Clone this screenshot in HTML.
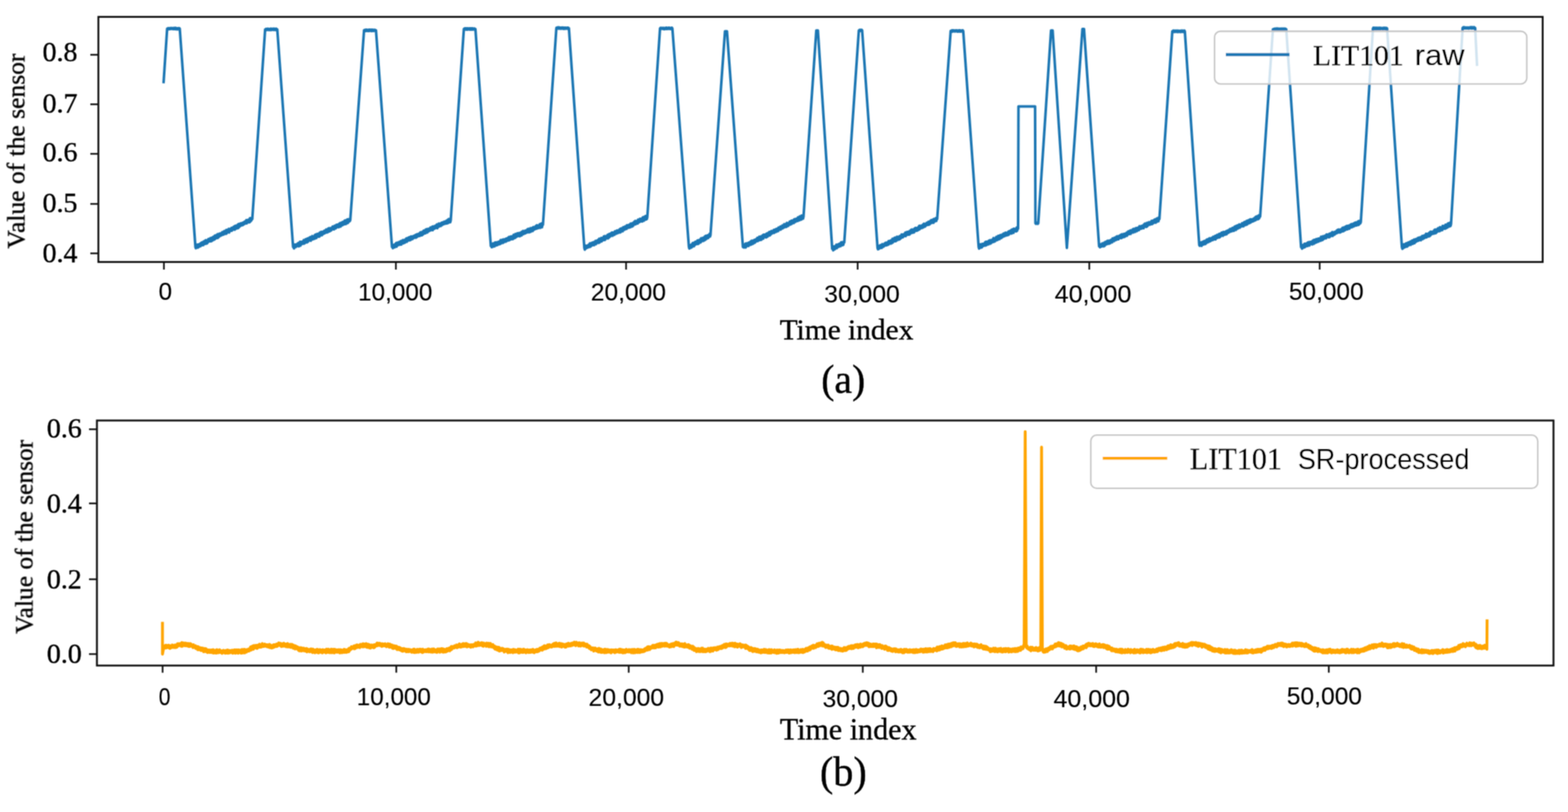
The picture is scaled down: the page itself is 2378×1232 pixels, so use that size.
<!DOCTYPE html>
<html><head><meta charset="utf-8"><title>LIT101 raw vs SR-processed</title>
<style>
html,body{margin:0;padding:0;background:#fff;}
body{width:2378px;height:1232px;overflow:hidden;}
svg{display:block;}

text{fill:#000;stroke:#000;stroke-width:0.55px;}
text.s{stroke-width:0.15px;}
</style></head>
<body>
<svg width="2378" height="1232" viewBox="0 0 2378 1232">
<defs><filter id="soft" x="0" y="0" width="2378" height="1232" filterUnits="userSpaceOnUse"><feConvolveMatrix order="3" kernelMatrix="1 2 1 2 4 2 1 2 1" edgeMode="duplicate" preserveAlpha="false"/></filter></defs>
<rect width="2378" height="1232" fill="#ffffff"/>
<g filter="url(#soft)">
<polyline points="248,126.4 253.5,43.4 254.2,44.1 254.9,42.8 255.6,44.3 256.3,42.9 257,44.2 257.7,42.7 258.5,43.9 259.2,42.6 259.9,43.9 260.6,42.6 261.3,43.9 262,42.9 262.7,44.2 263.4,42.4 264.1,44 264.8,42.8 265.5,44.3 266.2,42.3 266.9,44.2 267.6,42.7 268.4,44.5 269.1,42.9 269.8,44.4 270.5,42.7 271.2,44 271.9,42.8 272.6,43.4 296.4,375 297.1,376.6 297.8,371.5 298.5,375.7 299.2,371.2 299.9,375.8 300.6,370.9 301.3,374.9 302,370.7 302.7,373.4 303.4,369.8 304.1,373.7 304.8,368.7 305.5,372.4 306.2,367.8 306.9,372 307.6,367.6 308.3,371.9 309,366.2 309.7,370.2 310.4,365.7 311.1,370 311.8,364.5 312.5,369.7 313.2,364.8 313.9,369.4 314.6,364.4 315.3,367.8 316,362.6 316.7,366.6 317.4,362.4 318.1,365.7 318.8,361.4 319.5,366.3 320.2,360.9 320.9,365.8 321.6,360.6 322.3,364.8 323,359.4 323.7,363.9 324.4,359 325.1,363.6 325.8,357.4 326.5,362.3 327.2,357.2 327.9,360.9 328.6,356.5 329.3,361.2 330,355.3 330.7,360.8 331.4,355.8 332.1,359.4 332.8,354.5 333.5,358.1 334.2,354.1 334.9,357.6 335.6,354 336.3,356.8 337,352.2 337.7,356.2 338.4,352.4 339.1,355.9 339.9,350.6 340.6,354.7 341.3,350.7 342,354.8 342.7,349.2 343.4,354.6 344.1,348.6 344.8,353 345.5,348.7 346.2,352.4 346.9,347.2 347.6,352.7 348.3,347.7 349,350.7 349.7,346.9 350.4,350.1 351.1,345.8 351.8,350 352.5,345.4 353.2,348.3 353.9,344.5 354.6,348.3 355.3,343.5 356,348.6 356.7,342.6 357.4,347.1 358.1,342.1 358.8,346.7 359.5,342.3 360.2,346.4 360.9,340.4 361.6,345.7 362.3,339.7 363,344.2 363.7,339.7 364.4,343 365.1,338.6 365.8,342.2 366.5,338.9 367.2,341.8 367.9,338 368.6,341.3 369.3,337.5 370,340 370.7,336.6 371.4,339.5 372.1,335.6 372.8,338.7 373.5,334 374.2,339 374.9,334.6 375.6,337.7 376.3,333.5 377,337.2 377.7,333.2 378.4,337.3 379.1,331 379.8,336 380.5,331.2 381.2,334.6 381.9,331.2 382.6,332.4 402.1,44.6 402.8,45.3 403.5,43.9 404.2,45.6 404.9,44 405.6,45.1 406.3,43.5 407.1,45.4 407.8,44 408.5,45.4 409.2,44.1 409.9,45.4 410.6,43.5 411.3,45.6 412,43.7 412.7,45.3 413.4,43.9 414.1,45.2 414.8,43.6 415.5,45.4 416.3,43.6 417,45.3 417.7,44 418.4,45.6 419.1,43.5 419.8,45.6 420.5,44.6 444.5,374.8 445.2,371.7 445.9,376.9 446.6,371.1 447.3,375.2 448,370.9 448.7,374.8 449.4,371 450.1,373.6 450.8,369.9 451.5,373.3 452.3,368.6 453,373.8 453.7,368.3 454.4,373.1 455.1,366.7 455.8,372.5 456.5,367.1 457.2,370.6 457.9,366.7 458.6,369.9 459.3,366.1 460,369.9 460.7,364.2 461.4,369.6 462.1,364.3 462.8,368.6 463.5,363 464.2,367 464.9,362.6 465.6,367.7 466.4,361.7 467.1,366.8 467.8,361.6 468.5,365.2 469.2,360.4 469.9,364.8 470.6,359.7 471.3,365.2 472,359.7 472.7,363.5 473.4,358.1 474.1,363.4 474.8,358.8 475.5,361.7 476.2,358.1 476.9,362.4 477.6,356.4 478.3,360.4 479,355.7 479.7,361.2 480.4,355.3 481.2,359.5 481.9,354.8 482.6,358.4 483.3,355 484,359.2 484.7,353.3 485.4,357.8 486.1,352.1 486.8,356.9 487.5,351.6 488.2,356.9 488.9,352 489.6,355.3 490.3,351.2 491,354.6 491.7,350.1 492.4,354 493.1,349.7 493.8,353.1 494.5,348.2 495.3,352.8 496,348.3 496.7,352.5 497.4,346.9 498.1,351.6 498.8,346.2 499.5,351.1 500.2,346.2 500.9,350.4 501.6,346.4 502.3,349.6 503,345.4 503.7,348.2 504.4,343.7 505.1,347.8 505.8,343.6 506.5,348.1 507.2,342.8 507.9,346.8 508.6,342.2 509.3,346.5 510.1,341.1 510.8,345 511.5,340.8 512.2,344.6 512.9,340.6 513.6,344.8 514.3,339.5 515,343.8 515.7,338.4 516.4,343.8 517.1,338.3 517.8,342.6 518.5,337.5 519.2,341.7 519.9,336.6 520.6,341 521.3,336.2 522,340.3 522.7,334.8 523.4,340.1 524.2,334.2 524.9,339.8 525.6,334.6 526.3,338.5 527,332.8 527.7,338.3 528.4,333.5 529.1,336.4 529.8,332.3 530.5,335.7 531.2,333.8 552.1,46.1 552.8,45.5 553.5,46.6 554.3,45.2 555,47.1 555.7,45.1 556.4,46.7 557.2,45.2 557.9,47 558.6,45.5 559.3,47.1 560.1,45 560.8,46.7 561.5,45 562.2,46.8 563,45.3 563.7,47.2 564.4,45.1 565.1,46.7 565.9,45.3 566.6,46.9 567.3,45.4 568,46.7 568.8,45.4 569.5,47 570.2,46.1 594.5,374.8 595.2,373 595.9,376.5 596.6,371.7 597.3,374.9 598,371.2 598.7,375.3 599.4,370.3 600.1,373.7 600.8,368.8 601.5,374.3 602.2,368.2 602.9,372.5 603.6,368.8 604.3,371.7 605,367.2 605.7,371.5 606.4,367.7 607.1,371.1 607.8,365.7 608.5,371.1 609.2,366.2 609.9,369.3 610.6,364.4 611.3,369.4 612,364.1 612.7,368 613.4,364.6 614.1,368.3 614.8,363.3 615.5,366.6 616.2,361.8 617,366.9 617.7,361.4 618.4,365.4 619.1,360.6 619.8,364.7 620.5,360 621.2,364.7 621.9,360.2 622.6,364.2 623.3,358.6 624,363.1 624.7,359.3 625.4,362.9 626.1,358.5 626.8,361.5 627.5,358 628.2,360.8 628.9,357.2 629.6,360.6 630.3,356.4 631,360.7 631.7,355.8 632.4,359.6 633.1,355.3 633.8,358.7 634.5,355 635.2,357.9 635.9,354.3 636.6,358.1 637.3,352.8 638,356.5 638.7,352.3 639.4,357.1 640.1,352.2 640.8,356.3 641.5,351 642.2,355.1 642.9,349.7 643.6,354.3 644.3,349.6 645,354.1 645.7,348.2 646.4,352.9 647.1,347.8 647.8,352.9 648.5,347.5 649.2,351.7 649.9,347.3 650.6,350.5 651.3,347 652,349.8 652.7,345.3 653.4,349.5 654.1,345.7 654.8,348.6 655.5,343.9 656.2,349.3 656.9,343.5 657.6,347.6 658.3,343.6 659,347 659.7,342.6 660.4,346.1 661.1,342 661.9,345.7 662.6,340.5 663.3,346.2 664,340.5 664.7,344.3 665.4,339.2 666.1,343.8 666.8,339.5 667.5,342.6 668.2,338.9 668.9,342.8 669.6,338 670.3,341.7 671,337.4 671.7,340.7 672.4,337.1 673.1,340.2 673.8,336.2 674.5,339.5 675.2,336.2 675.9,339.3 676.6,335.2 677.3,339.1 678,334.1 678.7,338.7 679.4,333.2 680.1,338 680.8,332.2 681.5,336.8 682.2,332.5 682.9,337.2 683.6,333.8 703.5,44 704.2,43.4 704.9,44.9 705.6,43.1 706.3,44.5 707,43 707.7,45 708.4,43.1 709.1,44.9 709.8,43 710.5,44.6 711.2,43.2 711.9,44.8 712.6,43 713.3,45 714,43 714.7,44.8 715.4,43 716.1,44.9 716.8,43.1 717.5,44.6 718.2,43.5 718.9,44.6 719.6,43.3 720.3,44.6 721,44 744.4,373.3 745.1,370.2 745.8,375.1 746.5,370 747.2,374.6 747.9,369.3 748.6,373.8 749.3,369.9 750,373.8 750.7,368 751.5,372.7 752.2,367.8 752.9,372.4 753.6,368.1 754.3,371.9 755,367.2 755.7,370.2 756.4,366.6 757.1,370.8 757.8,366.1 758.5,370.2 759.2,364.2 759.9,369.2 760.6,364.6 761.3,368.6 762,363.6 762.7,368.5 763.4,363.1 764.1,367.7 764.9,363.4 765.6,366.3 766.3,362.6 767,366.8 767.7,361.9 768.4,365.9 769.1,361.8 769.8,364.4 770.5,360.8 771.2,364.9 771.9,359.5 772.6,364.3 773.3,359.6 774,363.5 774.7,358.8 775.4,362.8 776.1,358.8 776.8,363 777.6,358.1 778.3,362.6 779,356.2 779.7,360.3 780.4,356.5 781.1,361.1 781.8,355 782.5,359.9 783.2,355.6 783.9,359 784.6,353.9 785.3,358.4 786,354 786.7,357.7 787.4,353.5 788.1,358.5 788.8,353.6 789.5,357.7 790.2,352.4 791,357.2 791.7,351.4 792.4,355.5 793.1,350.5 793.8,355.4 794.5,351.5 795.2,354 795.9,350.1 796.6,354.2 797.3,349.8 798,353.1 798.7,349.2 799.4,352.8 800.1,347.8 800.8,351.7 801.5,347.3 802.2,352.6 802.9,347.8 803.6,352.1 804.4,346.3 805.1,351.5 805.8,346.4 806.5,350 807.2,345.6 807.9,350.5 808.6,344.7 809.3,348.9 810,344.4 810.7,348.1 811.4,344.5 812.1,347.3 812.8,342.6 813.5,347 814.2,341.8 814.9,346.4 815.6,342.4 816.3,346.2 817.1,342 817.8,345.4 818.5,340.1 819.2,345.7 819.9,339.8 820.6,344.7 821.3,339 822,344.7 822.7,339.1 823.4,341.1 843.8,42.3 844.5,43.3 845.2,41.8 845.9,43.3 846.6,41.6 847.3,43.4 848,41.6 848.7,43.1 849.4,42 850.1,43.6 850.8,42 851.5,43.4 852.2,41.9 852.9,43.3 853.7,41.7 854.4,43.8 855.1,42.1 855.8,43.6 856.5,42.1 857.2,43.6 857.9,42.1 858.6,43.4 859.3,42.3 860,43.5 860.7,41.9 861.4,43.7 862.1,42.3 862.8,43 886.2,376.2 886.9,378.8 887.6,372.4 888.3,377.3 889,373.2 889.7,376.2 890.4,372.6 891.1,375.8 891.8,371.9 892.5,374.9 893.2,370.9 893.9,374.8 894.6,369.2 895.3,374.4 896,369.3 896.7,373.1 897.4,368.4 898.1,372.4 898.8,368 899.5,371.2 900.2,367.4 900.9,372 901.6,367 902.4,370.5 903.1,365.5 903.8,370.5 904.5,365.5 905.2,368.8 905.9,364.7 906.6,368.3 907.3,363.7 908,368.6 908.7,362.3 909.4,367.7 910.1,363.1 910.8,365.6 911.5,361.2 912.2,366.4 912.9,360.9 913.6,365.2 914.3,361 915,364.2 915.7,358.8 916.4,364.2 917.1,358.2 917.8,363.8 918.5,358.6 919.2,361.6 919.9,358 920.6,361.6 921.3,356.4 922,361.7 922.7,355.7 923.4,360.5 924.1,354.9 924.8,359.4 925.5,354.6 926.2,358 926.9,353.5 927.6,357.7 928.3,352.6 929,357.7 929.7,353 930.4,356.1 931.1,352.4 931.8,356.3 932.5,350.9 933.2,354.7 934,351.3 934.7,354.7 935.4,349.7 936.1,353.8 936.8,349.6 937.5,353.5 938.2,349.3 938.9,352.3 939.6,347.9 940.3,352.7 941,346.9 941.7,351.9 942.4,346.5 943.1,350.1 943.8,346.2 944.5,350.7 945.2,344.7 945.9,348.9 946.6,345.2 947.3,348.5 948,343.4 948.7,347.7 949.4,343.4 950.1,347.4 950.8,341.6 951.5,346 952.2,342.4 952.9,345.5 953.6,341.1 954.3,345.4 955,340.7 955.7,344.9 956.4,339.1 957.1,343.7 957.8,339.4 958.5,343.8 959.2,338.5 959.9,342.9 960.6,337.9 961.3,341.2 962,336.3 962.7,340.6 963.4,335.3 964.1,340.2 964.8,335.9 965.5,339.1 966.3,334.9 967,339.2 967.7,333.3 968.4,337.6 969.1,333.5 969.8,337 970.5,331.9 971.2,336.2 971.9,332.7 972.6,335.4 973.3,331.5 974,336.1 974.7,329.9 975.4,335.1 976.1,329.1 976.8,334.8 977.5,329.5 978.2,332.8 978.9,327.8 979.6,333.1 980.3,328.6 981,332.3 981.7,329.4 1001,43.1 1001.7,42.4 1002.4,43.8 1003.2,42.4 1003.9,43.7 1004.6,42.6 1005.3,43.8 1006,42.4 1006.8,44.2 1007.5,42.5 1008.2,44.2 1008.9,42.5 1009.6,43.8 1010.4,42.1 1011.1,44.1 1011.8,42.3 1012.5,43.6 1013.2,42.3 1013.9,43.8 1014.7,42 1015.4,43.7 1016.1,42.4 1016.8,44.1 1017.5,42.6 1018.3,43.8 1019,42.1 1019.7,43.1 1044.8,374.8 1045.5,377.1 1046.2,372.5 1046.9,375.1 1047.6,371.7 1048.4,375.8 1049.1,370.6 1049.8,374.7 1050.5,368.7 1051.2,373.2 1051.9,369 1052.6,373.5 1053.3,367.6 1054,371.5 1054.8,366.6 1055.5,370.8 1056.2,366.6 1056.9,369.5 1057.6,365 1058.3,370.2 1059,364.4 1059.7,369.5 1060.4,364.7 1061.2,367.5 1061.9,363.1 1062.6,367.9 1063.3,361.5 1064,366.2 1064.7,361.9 1065.4,365.5 1066.1,360.7 1066.8,365.5 1067.5,360.4 1068.3,364.5 1069,358.7 1069.7,363.7 1070.4,357.8 1071.1,362.6 1071.8,357.8 1072.5,361.3 1073.2,357 1073.9,361.3 1074.7,356.7 1075.4,359.5 1076.1,354.7 1076.8,358.8 1077.5,356.6 1099.5,47.5 1102.5,47.5 1126.7,374.8 1127.4,372.9 1128.1,375.5 1128.8,371.4 1129.5,375.3 1130.2,370 1130.9,375.6 1131.6,369.2 1132.3,373.8 1133,370.1 1133.7,372.8 1134.4,368.7 1135.1,373.2 1135.8,368 1136.5,371.6 1137.2,367.4 1137.9,371.6 1138.6,366.2 1139.3,371.1 1140,365.2 1140.7,370.3 1141.4,365.8 1142.1,369.9 1142.8,364.8 1143.5,368.7 1144.2,363.9 1144.9,368.3 1145.6,363.5 1146.3,366.7 1147,362.7 1147.7,365.9 1148.4,360.9 1149.1,365.9 1149.9,361.2 1150.6,364.9 1151.3,359.3 1152,364.3 1152.7,359.9 1153.4,364.1 1154.1,358.5 1154.8,363.7 1155.5,358.7 1156.2,362.2 1156.9,356.8 1157.6,362.1 1158.3,355.9 1159,360 1159.7,356.3 1160.4,359.4 1161.1,355.8 1161.8,360.2 1162.5,354.4 1163.2,359.4 1163.9,354 1164.6,358.6 1165.3,353.2 1166,356.8 1166.7,351.9 1167.4,357.3 1168.1,352.4 1168.8,356 1169.5,350.8 1170.2,354.7 1170.9,350.5 1171.6,353.8 1172.3,350.1 1173,353.3 1173.7,348.7 1174.4,353.3 1175.1,348.7 1175.8,351.5 1176.5,347.8 1177.2,351.9 1177.9,347.3 1178.6,350.6 1179.3,346.6 1180,350.7 1180.7,345.3 1181.4,348.7 1182.1,345.3 1182.8,348.6 1183.5,343.8 1184.2,348.3 1184.9,343.9 1185.6,346.8 1186.3,342.2 1187,346.5 1187.7,342.2 1188.4,345.6 1189.1,340.3 1189.8,344.9 1190.5,340.3 1191.2,344.3 1191.9,339.8 1192.6,344.4 1193.3,338.1 1194,342.9 1194.7,338.8 1195.4,342.8 1196.2,338.1 1196.9,340.9 1197.6,336.2 1198.3,340.9 1199,335.6 1199.7,340.1 1200.4,334.8 1201.1,339.5 1201.8,335.3 1202.5,338 1203.2,333.9 1203.9,338.4 1204.6,332.6 1205.3,336.8 1206,332.4 1206.7,336.5 1207.4,331.9 1208.1,335.4 1208.8,331.6 1209.5,335.4 1210.2,329.8 1210.9,334 1211.6,329.8 1212.3,334.4 1213,328.3 1213.7,332.7 1214.4,329 1215.1,333.3 1215.8,326.9 1216.5,331.8 1217.2,327.7 1217.9,331.8 1218.6,328.5 1238,46.1 1240.4,46.1 1262.1,377.5 1262.8,375.1 1263.5,379.7 1264.2,373.9 1264.9,378.8 1265.6,374 1266.3,378 1267,373.1 1267.7,376.6 1268.4,371.3 1269.1,376.6 1269.8,371.7 1270.5,374.8 1271.2,370.6 1272,374.6 1272.7,369.9 1273.4,373.2 1274.1,369.4 1274.8,373.5 1275.5,367.6 1276.2,371.6 1276.9,367.4 1277.6,372.1 1278.3,367.5 1279,371.5 1279.7,366.7 1280.4,367.9 1302.5,46.1 1303.2,47 1303.9,45.3 1304.6,47 1305.4,45.4 1306.1,46.8 1306.8,45.3 1307.5,46.1 1330.9,376.5 1331.6,378.3 1332.3,373.3 1333,377.6 1333.7,373 1334.4,376.2 1335.1,372 1335.8,376.3 1336.5,372 1337.2,376.1 1337.9,370.4 1338.6,374.9 1339.3,370.7 1340,374.3 1340.7,370.1 1341.4,373 1342.1,368.9 1342.8,372.2 1343.5,368.2 1344.2,372.3 1344.9,368.2 1345.6,371.8 1346.3,367.4 1347,371.3 1347.7,365.6 1348.4,370.2 1349.1,366.1 1349.8,369.5 1350.5,364.9 1351.2,369.6 1351.9,364.6 1352.6,368.8 1353.3,362.5 1354,367.9 1354.7,362.1 1355.4,366.3 1356.1,361.1 1356.8,366.1 1357.5,360.5 1358.2,366.1 1358.9,361.1 1359.6,365.2 1360.3,359.2 1361,363.3 1361.7,359.5 1362.4,363.8 1363.1,359.1 1363.8,363.4 1364.5,358.2 1365.2,362.5 1365.9,357.8 1366.6,361.3 1367.3,355.8 1368,360.1 1368.7,356.2 1369.4,360 1370.1,355.4 1370.8,358.5 1371.5,355 1372.2,358 1372.9,353 1373.6,358.2 1374.3,352.4 1375,356.6 1375.7,351.9 1376.5,355.9 1377.2,351.6 1377.9,356.1 1378.6,351.2 1379.3,355.8 1380,350.2 1380.7,354.6 1381.4,349 1382.1,353.1 1382.8,348.1 1383.5,353.3 1384.2,348.5 1384.9,352.9 1385.6,348 1386.3,352.6 1387,346.8 1387.7,350.8 1388.4,345.8 1389.1,350.3 1389.8,346.1 1390.5,350.1 1391.2,345.6 1391.9,349.6 1392.6,344.6 1393.3,348.6 1394,342.7 1394.7,347.8 1395.4,342.5 1396.1,346.6 1396.8,343 1397.5,345.5 1398.2,342 1398.9,345.8 1399.6,340.9 1400.3,344.9 1401,339.4 1401.7,343.6 1402.4,339.8 1403.1,343.8 1403.8,339.5 1404.5,342 1405.2,338.3 1405.9,341.5 1406.6,337.6 1407.3,341 1408,336.5 1408.7,341 1409.4,336.5 1410.1,340.3 1410.8,335.3 1411.5,338.8 1412.2,333.9 1412.9,338.3 1413.6,334.5 1414.3,337.4 1415,333 1415.7,338 1416.4,332.1 1417.1,336.5 1417.8,332.3 1418.5,335.2 1419.2,330.9 1419.9,335.4 1420.6,330.7 1421.3,332.4 1441.8,47 1442.5,47.9 1443.2,46.2 1443.9,48.1 1444.6,46.1 1445.3,47.6 1446,46 1446.7,47.5 1447.4,46.2 1448.1,47.7 1448.8,46.4 1449.5,47.5 1450.2,46 1450.9,47.5 1451.7,46.2 1452.4,48.1 1453.1,46.4 1453.8,47.6 1454.5,46.1 1455.2,47.8 1455.9,46.1 1456.6,48 1457.3,46.4 1458,47.7 1458.7,46.3 1459.4,47.5 1460.1,46 1460.8,47 1484.2,374.8 1484.9,377.2 1485.6,371.5 1486.3,375.2 1487,370.7 1487.7,375.8 1488.4,370.6 1489.1,375.2 1489.8,370 1490.5,373.6 1491.2,370 1491.9,373 1492.6,369.4 1493.3,372.5 1494,367.5 1494.8,372.5 1495.5,366.7 1496.2,371.8 1496.9,367.1 1497.6,370.9 1498.3,366.1 1499,370.7 1499.7,365.3 1500.4,369.1 1501.1,364.5 1501.8,369.7 1502.5,364.5 1503.2,368.9 1503.9,364.2 1504.6,367.2 1505.3,363.2 1506,367.3 1506.7,361.3 1507.4,366.7 1508.1,361.7 1508.8,366.2 1509.5,361.1 1510.2,364.5 1510.9,359.4 1511.6,364.5 1512.3,359.1 1513,363.9 1513.7,358 1514.5,362.9 1515.2,357.6 1515.9,362.7 1516.6,356.9 1517.3,361.6 1518,356.5 1518.7,361.1 1519.4,356.5 1520.1,359.9 1520.8,355.3 1521.5,359 1522.2,354.2 1522.9,358.5 1523.6,355 1524.3,357.7 1525,352.9 1525.7,357.5 1526.4,353.5 1527.1,356.3 1527.8,353.1 1528.5,356.8 1529.2,351.4 1529.9,356.1 1530.6,350.6 1531.3,354.4 1532,350.2 1532.7,354.2 1533.4,349.1 1534.2,354.4 1534.9,348.3 1535.6,352.4 1536.3,347.7 1537,353.2 1537.7,346.9 1538.4,351.2 1539.1,347.5 1539.8,350.5 1540.5,347.2 1541.2,351.1 1541.9,345.2 1542.6,350.1 1543.3,344.5 1544,347 1544.6,161.5 1569.8,161.5 1570.3,338.6 1571,339.5 1571.7,337.9 1572.4,339.2 1573.2,338 1573.9,339.6 1574.6,338.6 1594,46.1 1596.4,46.1 1618,376.2 1641.6,44 1644,44 1666.9,373.9 1667.6,371.8 1668.3,375.2 1669,370.8 1669.7,374.1 1670.4,370.5 1671.1,373.9 1671.8,369.1 1672.5,373.4 1673.2,369.1 1673.9,373.7 1674.6,368.1 1675.3,372.9 1676,367.3 1676.7,370.9 1677.4,367 1678.1,370.9 1678.9,365.8 1679.6,370.1 1680.3,365.2 1681,369.8 1681.7,365.4 1682.4,369.7 1683.1,365 1683.8,369 1684.5,364.2 1685.2,367 1685.9,363.5 1686.6,367.7 1687.3,361.6 1688,365.7 1688.7,361.8 1689.4,365.9 1690.1,360.6 1690.8,364.8 1691.5,360.5 1692.2,364.4 1692.9,359.3 1693.6,363.6 1694.3,358.4 1695,363 1695.7,359.1 1696.4,363.1 1697.1,357.9 1697.8,361.4 1698.5,357.1 1699.2,360.7 1699.9,356.2 1700.6,361.2 1701.4,355.5 1702.1,360.4 1702.8,355.6 1703.5,359.4 1704.2,354.9 1704.9,359.6 1705.6,354.8 1706.3,358.9 1707,354.3 1707.7,357.1 1708.4,353.2 1709.1,357.7 1709.8,352.2 1710.5,356.1 1711.2,350.9 1711.9,355.3 1712.6,351 1713.3,355.1 1714,349.8 1714.7,354.9 1715.4,349.4 1716.1,353.5 1716.8,349.3 1717.5,352.6 1718.2,347.8 1718.9,352.8 1719.6,347.3 1720.3,351.3 1721,347.2 1721.7,351.7 1722.4,346.3 1723.1,350 1723.8,345.9 1724.6,350.6 1725.3,345.6 1726,348.8 1726.7,344.9 1727.4,349 1728.1,343.3 1728.8,347.5 1729.5,343.8 1730.2,347 1730.9,342.9 1731.6,346.8 1732.3,342.5 1733,345.8 1733.7,341.9 1734.4,346.3 1735.1,340.3 1735.8,344.2 1736.5,339.3 1737.2,343.5 1737.9,339.6 1738.6,344.4 1739.3,338.3 1740,343.3 1740.7,338.2 1741.4,341.8 1742.1,337.3 1742.8,341 1743.5,337.4 1744.2,340.8 1744.9,337 1745.6,340.2 1746.3,335.1 1747.1,340.1 1747.8,334.9 1748.5,339.3 1749.2,334.4 1749.9,337.9 1750.6,333.5 1751.3,337.7 1752,332.6 1752.7,337.9 1753.4,332.5 1754.1,336.7 1754.8,331.3 1755.5,335.8 1756.2,331.6 1756.9,335.7 1757.6,329.8 1758.3,332.4 1777.9,47.5 1778.6,48.5 1779.3,46.6 1780,48.5 1780.7,46.6 1781.4,48.4 1782.1,46.7 1782.8,48.2 1783.5,46.6 1784.2,48.1 1784.9,46.8 1785.6,48.5 1786.3,46.6 1787,48.4 1787.8,46.9 1788.5,48.3 1789.2,46.7 1789.9,48.4 1790.6,46.8 1791.3,48.4 1792,46.4 1792.7,48.1 1793.4,46.6 1794.1,48.5 1794.8,46.8 1795.5,48.3 1796.2,46.4 1796.9,47.5 1818.8,371.8 1819.5,372.9 1820.2,368.8 1820.9,372.5 1821.6,367.8 1822.3,373.1 1823,367.5 1823.7,371.1 1824.4,366.8 1825.1,371.1 1825.8,365.9 1826.6,370.4 1827.3,365.4 1828,370.3 1828.7,364.9 1829.4,368.9 1830.1,363.5 1830.8,367.9 1831.5,363.3 1832.2,367.6 1832.9,362.5 1833.6,366.5 1834.3,361.5 1835,366.2 1835.7,362.4 1836.4,365.4 1837.1,361.1 1837.8,364.3 1838.5,360.5 1839.2,364.3 1839.9,359.3 1840.6,363.6 1841.3,359.4 1842.1,362.7 1842.8,357.9 1843.5,363.3 1844.2,357.6 1844.9,361.4 1845.6,356.5 1846.3,361 1847,356.9 1847.7,359.9 1848.4,355.2 1849.1,360.4 1849.8,354.8 1850.5,359.2 1851.2,354.3 1851.9,358.1 1852.6,352.9 1853.3,357.6 1854,352.8 1854.7,357.8 1855.4,351.9 1856.1,356.5 1856.8,352.1 1857.6,356 1858.3,351.7 1859,355.8 1859.7,350.7 1860.4,355.2 1861.1,350.2 1861.8,353.7 1862.5,349.5 1863.2,353.1 1863.9,349 1864.6,351.8 1865.3,347.4 1866,351.6 1866.7,347.6 1867.4,351 1868.1,346.5 1868.8,350.5 1869.5,345.6 1870.2,350.2 1870.9,345.4 1871.6,350 1872.3,343.9 1873.1,347.9 1873.8,343.3 1874.5,348.7 1875.2,342.7 1875.9,346.7 1876.6,341.9 1877.3,346.9 1878,342.7 1878.7,345.2 1879.4,340.4 1880.1,345.6 1880.8,341 1881.5,344 1882.2,340.5 1882.9,343.6 1883.6,338.7 1884.3,343.1 1885,339.1 1885.7,343.4 1886.4,337.4 1887.1,341.5 1887.8,336.6 1888.6,341.6 1889.3,336.1 1890,341 1890.7,335.2 1891.4,340.6 1892.1,334.7 1892.8,338.9 1893.5,334.3 1894.2,338.8 1894.9,333.5 1895.6,338 1896.3,332.6 1897,337.5 1897.7,333 1898.4,336.3 1899.1,332.6 1899.8,336.1 1900.5,332.1 1901.2,335.4 1901.9,331.2 1902.6,334.8 1903.3,330 1904.1,334.2 1904.8,328.7 1905.5,332.6 1906.2,328.1 1906.9,332.8 1907.6,327.9 1908.3,332.4 1909,326.8 1909.7,331.3 1910.4,326.8 1911.1,328.6 1930.5,44.4 1931.2,45.5 1931.9,43.9 1932.7,45.3 1933.4,43.5 1934.1,44.9 1934.8,43.5 1935.5,45.3 1936.3,43.3 1937,45.1 1937.7,43.3 1938.4,45.2 1939.2,43.6 1939.9,45.4 1940.6,43.9 1941.3,45.3 1942,43.5 1942.8,45.1 1943.5,43.4 1944.2,45.1 1944.9,43.6 1945.7,45.2 1946.4,43.4 1947.1,45 1947.8,43.6 1948.5,45.2 1949.3,43.6 1950,45.4 1950.7,44.4 1973.2,375 1973.9,372.8 1974.6,377.2 1975.3,372 1976,376.1 1976.7,371.7 1977.4,375.5 1978.1,369.9 1978.8,375.1 1979.5,369.6 1980.2,374 1980.9,369.8 1981.6,373.4 1982.3,368.8 1983,373.3 1983.7,367.8 1984.4,371.7 1985.1,367.4 1985.8,372.6 1986.5,367.1 1987.2,370.6 1987.9,366.9 1988.7,369.9 1989.4,366.5 1990.1,370.9 1990.8,365.2 1991.5,369.8 1992.2,364.3 1992.9,369.7 1993.6,364 1994.3,368.6 1995,363.4 1995.7,368.1 1996.4,362.8 1997.1,367.5 1997.8,362.9 1998.5,366.9 1999.2,361.9 1999.9,366.5 2000.6,361.9 2001.3,364.9 2002,361.4 2002.7,365.3 2003.4,359.3 2004.1,364.5 2004.8,359.7 2005.5,364.2 2006.2,358.4 2006.9,363.2 2007.6,358.7 2008.3,362.1 2009,357.8 2009.7,361.6 2010.4,357.2 2011.1,361.5 2011.8,355.8 2012.5,359.9 2013.2,355.8 2013.9,359.3 2014.6,356 2015.3,360.1 2016,354.6 2016.7,359.6 2017.4,354.2 2018.1,357.5 2018.9,353.7 2019.6,357.9 2020.3,352.2 2021,358 2021.7,352.4 2022.4,356.4 2023.1,352.5 2023.8,356.2 2024.5,351.7 2025.2,354.8 2025.9,351.4 2026.6,354 2027.3,349.7 2028,353.6 2028.7,348.6 2029.4,352.9 2030.1,348.2 2030.8,352.4 2031.5,349.1 2032.2,352.8 2032.9,348.1 2033.6,352.2 2034.3,347.6 2035,350.5 2035.7,346 2036.4,351 2037.1,345.3 2037.8,350.5 2038.5,346 2039.2,349.7 2039.9,344.3 2040.6,348.8 2041.3,343.4 2042,347.9 2042.7,342.7 2043.4,348.1 2044.1,343.8 2044.8,346.3 2045.5,342.1 2046.2,347.1 2046.9,342.5 2047.6,345.6 2048.3,340.8 2049.1,344.8 2049.8,339.9 2050.5,344.7 2051.2,340.7 2051.9,343.9 2052.6,339.3 2053.3,343.5 2054,338.5 2054.7,342.4 2055.4,337.7 2056.1,342.2 2056.8,337.4 2057.5,342 2058.2,337.2 2058.9,341 2059.6,335.9 2060.3,341.4 2061,335.3 2061.7,340.1 2062.4,335.6 2063.1,338.7 2063.8,336.9 2082.2,43.2 2082.9,42.1 2083.6,44.1 2084.3,42.2 2085.1,43.9 2085.8,42.3 2086.5,44.3 2087.2,42.2 2087.9,44.1 2088.6,42.5 2089.3,44 2090,42.2 2090.8,43.9 2091.5,42.3 2092.2,44.1 2092.9,42.2 2093.6,44.2 2094.3,42.5 2095,43.7 2095.8,42.5 2096.5,44 2097.2,42.4 2097.9,44.2 2098.6,42.2 2099.3,43.7 2100,42.2 2100.7,44.2 2101.5,42.2 2102.2,44 2102.9,42.5 2103.6,43.2 2126.1,375 2126.8,377.5 2127.5,371.6 2128.2,376.6 2128.9,370.7 2129.6,375.3 2130.3,371.5 2131,375 2131.7,369.6 2132.4,373.8 2133.1,369 2133.8,374.3 2134.5,369.2 2135.2,373.1 2135.9,367.8 2136.6,372.2 2137.3,368 2138,371.2 2138.8,366.4 2139.5,371.5 2140.2,366.2 2140.9,369.6 2141.6,364.9 2142.3,370.1 2143,365.3 2143.7,369.1 2144.4,363.5 2145.1,369 2145.8,363.4 2146.5,367.6 2147.2,362.7 2147.9,366.5 2148.6,362.7 2149.3,365.8 2150,361.2 2150.7,365.4 2151.4,360.7 2152.1,364.8 2152.8,360.1 2153.5,363.7 2154.2,360.3 2154.9,364.5 2155.6,359.1 2156.3,362.3 2157,358 2157.7,362.8 2158.4,358.1 2159.1,361.9 2159.8,357.1 2160.5,361.1 2161.2,357 2161.9,359.6 2162.6,354.7 2163.3,360.3 2164.1,354.9 2164.8,359.1 2165.5,354.6 2166.2,358.8 2166.9,353.7 2167.6,358.5 2168.3,352.4 2169,357.6 2169.7,351.4 2170.4,356 2171.1,352.3 2171.8,355.2 2172.5,351.4 2173.2,354.4 2173.9,351 2174.6,354.5 2175.3,348.9 2176,353.7 2176.7,348.1 2177.4,353.8 2178.1,349 2178.8,352.6 2179.5,347.8 2180.2,351.1 2180.9,346.1 2181.6,350.7 2182.3,346.2 2183,350.7 2183.7,344.8 2184.4,350.1 2185.1,345.1 2185.8,349 2186.5,344.9 2187.2,349.2 2187.9,342.8 2188.7,347.3 2189.4,343.7 2190.1,346.7 2190.8,342.5 2191.5,347.1 2192.2,340.9 2192.9,346.4 2193.6,341.7 2194.3,345.6 2195,339.9 2195.7,344.7 2196.4,338.8 2197.1,343 2197.8,339.6 2198.5,343.6 2199.2,337.6 2199.9,342.8 2200.6,339.9 2218.2,42.3 2218.9,41.6 2219.6,43.2 2220.3,41.3 2221,42.9 2221.7,41.6 2222.4,43 2223.1,41.7 2223.8,43.1 2224.5,41.7 2225.2,42.9 2225.9,41.7 2226.6,43.2 2227.3,41.8 2228.1,43.2 2228.8,41.7 2229.5,42.8 2230.2,41.2 2230.9,42.9 2231.6,41.2 2232.3,43.3 2233,41.3 2233.7,42.9 2234.4,41.5 2235.1,42.9 2235.8,41.2 2236.5,43.3 2237.2,42.3 2240.1,100.2" fill="none" stroke="#1f77b4" stroke-width="3.9" stroke-linejoin="round" stroke-linecap="butt"/>
<rect x="149.2" y="25.6" width="2190.4" height="371.9" fill="none" stroke="#0d0d0d" stroke-width="2.8"/>
<line x1="137" y1="83.1" x2="149.2" y2="83.1" stroke="#0d0d0d" stroke-width="2.5"/>
<text x="117.6" y="93.4" font-size="42.5" font-family="'Liberation Serif','Times New Roman',serif" text-anchor="end">0.8</text>
<line x1="137" y1="158.2" x2="149.2" y2="158.2" stroke="#0d0d0d" stroke-width="2.5"/>
<text x="117.6" y="170.5" font-size="42.5" font-family="'Liberation Serif','Times New Roman',serif" text-anchor="end">0.7</text>
<line x1="137" y1="233.4" x2="149.2" y2="233.4" stroke="#0d0d0d" stroke-width="2.5"/>
<text x="117.6" y="245.4" font-size="42.5" font-family="'Liberation Serif','Times New Roman',serif" text-anchor="end">0.6</text>
<line x1="137" y1="309.4" x2="149.2" y2="309.4" stroke="#0d0d0d" stroke-width="2.5"/>
<text x="117.6" y="322.2" font-size="42.5" font-family="'Liberation Serif','Times New Roman',serif" text-anchor="end">0.5</text>
<line x1="137" y1="384.4" x2="149.2" y2="384.4" stroke="#0d0d0d" stroke-width="2.5"/>
<text x="117.6" y="398.3" font-size="42.5" font-family="'Liberation Serif','Times New Roman',serif" text-anchor="end">0.4</text>
<line x1="248.6" y1="397.5" x2="248.6" y2="409" stroke="#0d0d0d" stroke-width="2.5"/>
<text x="240.6" y="454.5" font-size="37.5" font-family="'Liberation Sans',Arial,sans-serif" text-anchor="start" textLength="20.4" lengthAdjust="spacingAndGlyphs" class="s">0</text>
<line x1="600.4" y1="397.5" x2="600.4" y2="409" stroke="#0d0d0d" stroke-width="2.5"/>
<text x="543" y="456.3" font-size="37.5" font-family="'Liberation Sans',Arial,sans-serif" text-anchor="start" textLength="112.8" lengthAdjust="spacingAndGlyphs" class="s">10,000</text>
<line x1="949.5" y1="397.5" x2="949.5" y2="409" stroke="#0d0d0d" stroke-width="2.5"/>
<text x="896" y="456.2" font-size="37.5" font-family="'Liberation Sans',Arial,sans-serif" text-anchor="start" textLength="114" lengthAdjust="spacingAndGlyphs" class="s">20,000</text>
<line x1="1300.7" y1="397.5" x2="1300.7" y2="409" stroke="#0d0d0d" stroke-width="2.5"/>
<text x="1250.1" y="458.5" font-size="37.5" font-family="'Liberation Sans',Arial,sans-serif" text-anchor="start" textLength="114.4" lengthAdjust="spacingAndGlyphs" class="s">30,000</text>
<line x1="1652" y1="397.5" x2="1652" y2="409" stroke="#0d0d0d" stroke-width="2.5"/>
<text x="1599.5" y="458.5" font-size="37.5" font-family="'Liberation Sans',Arial,sans-serif" text-anchor="start" textLength="116.3" lengthAdjust="spacingAndGlyphs" class="s">40,000</text>
<line x1="2001.4" y1="397.5" x2="2001.4" y2="409" stroke="#0d0d0d" stroke-width="2.5"/>
<text x="1954.7" y="454.6" font-size="37.5" font-family="'Liberation Sans',Arial,sans-serif" text-anchor="start" textLength="113.4" lengthAdjust="spacingAndGlyphs" class="s">50,000</text>
<text x="1182.4" y="514.8" font-size="45" font-family="'Liberation Serif','Times New Roman',serif" text-anchor="start" textLength="202.8" lengthAdjust="spacingAndGlyphs">Time index</text>
<text x="1245.6" y="596" font-size="61.5" font-family="'Liberation Serif','Times New Roman',serif" text-anchor="start" textLength="66.5" lengthAdjust="spacingAndGlyphs">(a)</text>
<text transform="translate(37.2,377.3) rotate(-90)" font-size="38.5" font-family="'Liberation Serif','Times New Roman',serif" textLength="296" lengthAdjust="spacingAndGlyphs">Value of the sensor</text>
<rect x="1842" y="47.5" width="473.5" height="79.8" rx="9" ry="9" fill="#ffffff" fill-opacity="0.8" stroke="#c6c6c6" stroke-width="2.3"/>
<line x1="1859" y1="82.9" x2="1955.6" y2="82.9" stroke="#1f77b4" stroke-width="4.6"/>
<text x="1991.3" y="98.9" font-size="45" font-family="'Liberation Serif','Times New Roman',serif" text-anchor="start" textLength="137.6" lengthAdjust="spacingAndGlyphs">LIT101</text>
<text x="2145.6" y="98.9" font-size="45" font-family="'Liberation Sans',Arial,sans-serif" text-anchor="start" textLength="75.5" lengthAdjust="spacingAndGlyphs" class="s">raw</text>
<polyline points="246.4,943.5 246.4,992.5 248.5,981.5 249.2,983.6 249.9,979.7 250.6,983 251.3,978.9 252.1,983.2 252.8,979.2 253.5,982.5 254.2,980 254.9,982.2 255.6,978.9 256.3,983.2 257,980 257.7,983.8 258.4,979.7 259.2,982.8 259.9,979.9 260.6,982.5 261.3,978.5 262,981 262.7,982.3 263.4,979.4 264.2,982.2 264.9,978.7 265.6,982.7 266.4,978.7 267.1,982.4 267.8,978.4 268.5,981.8 269.2,976.7 270,980 270.7,976.7 271.4,979.8 272.2,976.7 272.9,979.2 273.6,977.7 274.3,976.2 275,980.7 275.7,975 276.4,980.7 277.1,977 277.8,979.6 278.5,975.5 279.2,979.2 279.9,976 280.6,979.8 281.3,975.6 282.1,979.4 282.8,976.1 283.5,980.2 284.2,977.5 284.9,979.6 285.6,976.3 286.3,980.8 287,977.7 287.7,980.8 288.4,976.4 289.1,980.5 289.8,977.2 290.5,979.3 291.2,980.8 291.9,978.7 292.6,982.7 293.3,978.2 294.1,982.1 294.8,980.1 295.5,982.5 296.2,979.7 296.9,984 297.6,981 298.3,984 299,980.9 299.7,985.6 300.4,981.1 301.2,986 301.9,983 302.6,985.6 303.3,982.5 304,985.2 304.7,987.1 305.4,983.2 306.1,986.6 306.8,983.3 307.5,987.5 308.2,983.5 308.9,988.9 309.6,984.6 310.4,987.5 311.1,984 311.8,988.7 312.5,984.4 313.2,988.6 313.9,986.1 314.6,990.1 315.3,986 316,987.8 316.7,989 317.4,986.2 318.1,990 318.9,987.1 319.6,989.9 320.3,986.2 321,990 321.7,987 322.4,990.4 323.1,985.6 323.9,990.8 324.6,986.7 325.3,990.6 326,986.6 326.7,990.7 327.4,987.4 328.1,991 328.9,985.6 329.6,990.3 330.3,986.6 331,990.5 331.7,986.6 332.4,989.5 333.1,985.8 333.9,990 334.6,987.5 335.3,989.8 336,987.4 336.7,991.3 337.4,987.9 338.1,989.9 338.9,986.6 339.6,990.2 340.3,988.1 341,989 341.7,991.1 342.4,986.9 343.1,990.9 343.8,986.6 344.5,990 345.2,986.2 345.9,991.2 346.6,987.8 347.3,989.9 348,986.9 348.7,990.6 349.4,987.3 350.1,989.8 350.8,987 351.5,989.8 352.2,986.5 352.9,991.2 353.6,987.4 354.3,990.6 355,986.1 355.7,989.7 356.4,985.9 357.1,991.2 357.8,986.7 358.5,990.1 359.2,985.8 359.9,990.3 360.6,986.6 361.3,991.1 362,985.8 362.7,989.8 363.4,986.8 364.1,989.7 364.8,986.4 365.5,991 366.2,985.6 366.9,990.8 367.6,985.5 368.3,990.6 369,987 369.7,989.9 370.4,985.1 371.1,990.7 371.8,986.5 372.5,989.6 373.2,985.7 373.9,989.4 374.6,987.8 375.4,985.4 376.1,987.9 376.9,984.7 377.7,987.8 378.4,984.6 379.2,986.2 379.9,981.7 380.7,986.5 381.5,980.9 382.2,985.3 383,982.7 383.7,980 384.4,985 385.1,979.5 385.8,983 386.5,979.7 387.2,983.1 387.9,979.3 388.6,982.8 389.3,979.3 390,983.8 390.7,978.8 391.4,982.1 392.1,978.7 392.8,982.2 393.5,977.5 394.2,981.6 394.9,978.4 395.6,982 396.3,978.5 397,981.5 397.7,976.5 398.4,981 399.1,977.5 399.8,978.8 400.5,980.7 401.3,977.1 402,980.3 402.7,978.2 403.5,980.5 404.2,978.1 404.9,981.4 405.7,978.3 406.4,981.3 407.1,979 407.9,982.1 408.6,977.7 409.3,982.5 410.1,978.5 410.8,982.8 411.5,979.5 412.3,983.2 413,981 413.7,979 414.5,982.5 415.2,978.2 415.9,981.9 416.7,978.3 417.4,980.9 418.1,978 418.9,981 419.6,977.2 420.4,980.7 421.1,977.5 421.8,979.8 422.6,975.3 423.3,977.7 424,979.1 424.7,975.9 425.4,979.8 426.1,976.6 426.9,981 427.6,976.7 428.3,980.7 429,977.2 429.7,979.4 430.4,975.9 431.1,980.4 431.8,977.7 432.6,980.4 433.3,977.1 434,981.3 434.7,977.9 435.4,980.4 436.1,976.3 436.8,981.6 437.5,978.1 438.2,981 439,977.9 439.7,981.8 440.4,977.5 441.1,982.3 441.8,979.8 442.5,977.6 443.3,982.4 444,978.4 444.7,983.5 445.4,979 446.2,983.6 446.9,979.6 447.6,984.7 448.4,980 449.1,984.2 449.8,980.8 450.5,984.6 451.3,981.6 452,984.4 452.7,986.6 453.4,982.7 454.1,987.5 454.8,982.8 455.6,986.6 456.3,982.6 457,987.8 457.7,983.1 458.4,987 459.1,983.6 459.8,987.3 460.5,983.3 461.3,987.2 462,984.2 462.7,987.9 463.4,984.4 464.1,987.7 464.8,983.8 465.5,989 466.2,984.6 467,988.3 467.7,985.4 468.4,988.3 469.1,985.7 469.8,989 470.5,985 471.2,988.2 471.9,984.5 472.7,988.9 473.4,984.9 474.1,990.2 474.8,984.9 475.5,987.8 476.2,989.1 476.9,986.1 477.6,990.5 478.3,986.9 479,988.8 479.7,985.8 480.4,989.7 481.1,985.1 481.8,990.2 482.5,985.8 483.2,990.7 483.9,985.9 484.6,989.7 485.3,985.5 486,989.5 486.7,986.2 487.4,989.9 488.1,986.2 488.8,990.6 489.5,985.6 490.2,989.7 490.9,986.7 491.6,989.4 492.3,986.1 493,989.8 493.7,985.8 494.4,990.5 495.1,985 495.8,989.7 496.5,986 497.2,989.9 497.9,984.9 498.6,989.4 499.3,985.9 500,990.3 500.8,986.6 501.5,989.3 502.2,984.9 502.9,990.3 503.6,985.9 504.3,988.9 505,985.1 505.7,990.1 506.4,985.3 507.1,990.7 507.8,985.1 508.5,989.5 509.2,986.6 509.9,989.3 510.6,985.9 511.3,989.7 512,986.5 512.7,989 513.4,985.7 514.1,989.9 514.8,986.2 515.5,990.7 516.2,985.6 516.9,988.8 517.6,986.1 518.3,990.3 519,986.3 519.7,990.1 520.4,986.9 521.1,989.3 521.8,985.2 522.5,989.9 523.2,985.6 523.9,989.1 524.6,985.9 525.3,989.8 526,987.8 526.8,985.9 527.5,989.1 528.3,984.5 529.1,988.8 529.8,983.4 530.6,986.7 531.3,983.4 532.1,985.3 532.9,981.2 533.6,984.3 534.4,982.7 535.1,981.5 535.8,983.6 536.5,980.2 537.2,984.5 537.9,979.7 538.6,984.2 539.3,980.5 540,982.2 540.7,978.7 541.4,982.5 542.1,978.5 542.8,982.2 543.5,979.2 544.2,981.7 544.9,979 545.6,982.6 546.3,977.7 547,981.1 547.7,977.6 548.4,980.9 549.1,978 549.8,981.5 550.5,976.6 551.2,978.5 551.9,981.4 552.6,977 553.3,981 554,977.7 554.7,980.1 555.4,976.5 556.1,982 556.8,978 557.5,982.4 558.3,977.3 559,981.4 559.7,978 560.4,983 561.1,978.5 561.8,983.3 562.5,979.2 563.2,982.4 563.9,978.5 564.6,981 565.3,982.1 566,979 566.8,982.9 567.5,978.1 568.2,982.2 568.9,978.1 569.7,980.4 570.4,977.4 571.1,980 571.8,975.6 572.6,979.7 573.3,975.9 574,977.7 574.7,978.9 575.4,975.9 576.1,979.6 576.8,976.3 577.6,979.1 578.3,977 579,980.8 579.7,976.7 580.4,979.8 581.1,977.2 581.8,980 582.5,977.3 583.2,979.7 584,976.6 584.7,980.4 585.4,977.8 586.1,981.3 586.8,978 587.5,980.6 588.2,976.7 588.9,980.5 589.6,977.6 590.4,982.1 591.1,977.1 591.8,980.8 592.5,978.1 593.2,979.8 593.9,982.4 594.6,978.7 595.3,983.5 596,979.6 596.8,984 597.5,979.6 598.2,983.1 598.9,980.3 599.6,983.5 600.3,980.3 601,984.3 601.7,980.5 602.4,985.6 603.1,982.2 603.9,985.4 604.6,982.2 605.3,985.9 606,982.3 606.7,985.2 607.4,986.4 608.1,983.5 608.8,987.4 609.5,984.1 610.2,988.1 610.9,984.1 611.6,988 612.3,983.9 613,987.5 613.7,984.4 614.4,987.2 615.1,985 615.9,988.9 616.6,984.9 617.3,988.7 618,985.5 618.7,988.7 619.4,985.2 620.1,988.8 620.8,985.5 621.5,988.1 622.2,985.6 622.9,988.6 623.6,986.2 624.3,989.7 625,987.5 625.7,986 626.4,989.2 627.1,984.8 627.8,989.9 628.5,984.8 629.2,990.1 629.9,986.3 630.6,988.9 631.3,986.5 632,989.7 632.7,985.2 633.4,989 634.1,985.7 634.8,989.6 635.5,985.1 636.2,988.7 636.9,984.8 637.6,988.9 638.3,985.2 639,988.6 639.7,986.2 640.4,990.1 641.1,985 641.8,989.6 642.5,986.4 643.2,988.2 643.9,986.1 644.6,988.6 645.3,985.8 646,988.9 646.7,986.3 647.4,988.8 648.1,985.1 648.8,988.5 649.5,984.7 650.2,989.2 650.9,984.9 651.6,988.6 652.4,985.4 653.1,989.4 653.8,985.6 654.5,988 655.2,984.6 655.9,989.6 656.6,985.7 657.3,988.1 658,984.5 658.7,989.2 659.4,986.2 660.1,988.5 660.8,986 661.5,989.6 662.2,985.8 662.9,989.8 663.6,984.7 664.3,988.1 665,984.8 665.7,988.7 666.4,984.7 667.1,989.6 667.8,985.6 668.5,988.1 669.2,984.2 669.9,988.7 670.6,984.2 671.3,989.3 672,984.6 672.7,989.5 673.4,984.8 674.1,988.7 674.8,986 675.5,989.2 676.2,985.2 676.9,988.8 677.6,984.2 678.3,988 679,986.9 679.8,984 680.5,986.9 681.3,983.2 682,987.6 682.8,983.2 683.5,986.2 684.3,980.9 685,985.4 685.8,980.8 686.5,983.7 687.3,981.9 688,980.7 688.8,983.2 689.5,979.7 690.2,982.5 690.9,979.6 691.7,982.1 692.4,978.5 693.1,982.8 693.8,979.1 694.6,981.7 695.3,978.2 696,981.7 696.7,977 697.5,981.2 698.2,978 698.9,982 699.6,978 700.4,981 701.1,977.3 701.8,981.2 702.5,976.5 703.3,980.8 704,978.2 704.7,977.1 705.4,980.7 706.1,976.5 706.8,980.5 707.5,976.4 708.2,981.5 708.9,977.9 709.6,980.6 710.4,977.7 711.1,980.7 711.8,978.5 712.5,981.1 713.2,978.5 713.9,982.1 714.6,978.2 715.3,981.2 716,980.2 716.8,978.4 717.5,981.5 718.3,977.8 719,980.3 719.8,977.8 720.5,979.5 721.3,975.4 722,980.4 722.8,976.7 723.5,979.8 724.3,977.2 725,974.4 725.7,979.3 726.5,976.3 727.2,979.3 727.9,975.7 728.6,978.8 729.3,975.6 730.1,978.5 730.8,975 731.5,979.9 732.2,975.7 733,980.7 733.7,975.7 734.4,979.4 735.1,976.7 735.8,979.3 736.6,977.2 737.3,980.7 738,975.7 738.7,979.8 739.5,977.2 740.2,980.6 740.9,975.9 741.6,981.3 742.3,977.4 743.1,981.1 743.8,976.2 744.5,978.8 745.2,981.6 745.9,978.1 746.7,981.2 747.4,977.9 748.1,982.3 748.8,979.6 749.5,983.6 750.3,980.4 751,985 751.7,981.4 752.4,984.2 753.2,981.6 753.9,986.1 754.6,984.4 755.3,982 756,987 756.7,982.1 757.5,987.8 758.2,983.3 758.9,987.2 759.6,984.2 760.3,987.1 761,983.7 761.7,986.9 762.4,983.8 763.2,987.4 763.9,984.6 764.6,989.3 765.3,985.6 766,987.7 766.7,985.2 767.4,988.3 768.1,984.9 768.9,988.2 769.6,984.9 770.3,990.3 771,987.8 771.7,985.3 772.4,989.5 773.1,986.4 773.8,990 774.5,985.9 775.2,989.5 775.9,986.2 776.6,989.6 777.3,985.6 778,990.3 778.7,985.1 779.4,989 780.1,986.3 780.8,989.6 781.5,985.8 782.2,989.4 782.9,986.5 783.6,988.8 784.3,986.3 785,989.6 785.7,985 786.4,990.5 787.1,985.2 787.8,990.6 788.5,985 789.2,989.9 789.9,985.3 790.6,988.8 791.3,985.6 792,989.9 792.7,986.3 793.4,989.8 794.1,985 794.8,989.6 795.5,985.6 796.2,989.3 796.9,986.2 797.6,990.5 798.3,986.9 799,989.1 799.7,985.6 800.4,989.6 801.1,986.8 801.8,990 802.5,986.2 803.2,989.8 803.9,986.1 804.6,989.7 805.3,985.8 806,989.5 806.7,986.7 807.4,989 808.1,985.1 808.8,989.8 809.5,986.7 810.2,990.4 810.9,986.4 811.6,988.9 812.3,985.9 813,987.8 813.7,988.9 814.4,985.3 815.1,988.9 815.8,985.3 816.5,988.4 817.2,984.9 817.9,987.6 818.6,983.4 819.3,986.2 820,983.2 820.7,985.6 821.4,982.5 822.1,986.6 822.8,981.7 823.5,985.7 824.2,980.7 824.9,983.9 825.6,979.6 826.3,984.5 827,981.9 827.7,980.7 828.4,984.1 829.1,979.7 829.8,982.5 830.5,978.3 831.2,982.9 832,978.3 832.7,981.8 833.4,978 834.1,981.3 834.8,978.8 835.5,981.6 836.2,978.9 836.9,981.7 837.6,978.2 838.3,980.8 839,976.8 839.7,980.7 840.4,976.2 841.2,980.8 841.9,975.9 842.6,980.4 843.3,975.5 844,980.7 844.7,976.7 845.4,977.7 846.1,980.2 846.8,976.4 847.6,980.6 848.3,976 849,981 849.7,977.5 850.5,980.4 851.2,976.5 851.9,981.8 852.6,976.9 853.3,980.3 854.1,977.4 854.8,980.7 855.5,979.8 856.2,977.7 856.9,982 857.6,978.2 858.3,981.9 859.1,976.8 859.8,980.2 860.5,977.4 861.2,980.3 861.9,975.8 862.6,980.3 863.3,977 864,978.8 864.7,976.7 865.4,980.1 866.2,976.2 866.9,979.3 867.6,975.7 868.3,979.2 869,976.8 869.7,975.2 870.4,978.1 871.1,974.3 871.9,979 872.6,974.8 873.3,979.7 874,974.4 874.7,978.2 875.4,975.8 876.1,978.6 876.9,975.6 877.6,980.2 878.3,975.1 879,978.6 879.7,976.5 880.4,980.3 881.1,975.6 881.9,979.6 882.6,976.1 883.3,979.2 884,975.5 884.7,979.8 885.4,975.6 886.1,980.4 886.9,977.3 887.6,979.9 888.3,977.1 889,978.5 889.7,981.7 890.4,977.4 891.1,980.9 891.8,979.3 892.5,982.6 893.2,979.6 894,984 894.7,980.8 895.4,984.5 896.1,982.5 896.8,986 897.5,984.4 898.2,983 898.9,985.6 899.7,983 900.4,987.9 901.1,984.2 901.8,986.5 902.5,983.2 903.2,987 904,984.3 904.7,987.8 905.4,984.6 906.1,988.2 906.8,984.4 907.5,989.3 908.3,983.7 909,987.7 909.7,984.9 910.4,989.5 911.1,984.6 911.8,989.8 912.6,985.3 913.3,989.8 914,987.8 914.7,986.2 915.4,989.2 916.1,985.3 916.8,990.4 917.5,985 918.2,990.1 918.9,986.3 919.6,990.2 920.3,985.4 921,989.7 921.7,985.6 922.4,989.4 923.1,985.8 923.8,989.5 924.5,986.8 925.2,989.4 925.9,986.3 926.6,990.7 927.3,986 928,989.4 928.8,986.4 929.5,989.1 930.2,986.2 930.9,988.9 931.6,986.9 932.3,990.4 933,986 933.7,989.6 934.4,985.8 935.1,989.3 935.8,986.6 936.5,988.8 937.2,986.3 937.9,989.3 938.6,985.5 939.3,989.8 940,985 940.7,989.4 941.4,985.1 942.1,989.9 942.8,986.8 943.5,989 944.2,985.8 944.9,990.7 945.6,986.2 946.3,990.2 947,986.1 947.7,990.4 948.4,986.8 949.1,989.7 949.8,985.1 950.5,989.2 951.2,986.4 951.9,988.7 952.6,986.6 953.3,989.2 954,985.5 954.7,989.1 955.4,986.1 956.1,989.1 956.8,985.7 957.5,990.4 958.2,985.6 959,989.1 959.7,985.4 960.4,990.6 961.1,985.7 961.8,988.8 962.5,985.3 963.2,990.4 963.9,986.2 964.6,988.9 965.3,986.5 966,989.8 966.7,985.2 967.4,990 968.1,985.1 968.8,989.1 969.5,986.3 970.2,990.2 970.9,985.6 971.6,989.5 972.3,985.6 973,987.8 973.7,989.1 974.4,986.3 975.2,988.7 975.9,985.8 976.6,988.6 977.3,984.6 978,987.8 978.8,983.6 979.5,986.8 980.2,983.3 980.9,985.7 981.7,981.8 982.4,986.3 983.1,981.2 983.8,984.8 984.5,981.4 985.3,985.6 986,981.4 986.7,982.7 987.4,983.6 988.1,981.1 988.8,983.3 989.5,979.5 990.2,982.8 990.9,979 991.6,983.1 992.3,979.2 993,983 993.7,978.8 994.4,982.8 995.1,978.3 995.9,981.7 996.6,977.6 997.3,981.2 998,977.3 998.7,981.9 999.4,976.8 1000.1,980.5 1000.8,976.4 1001.5,981.5 1002.2,976.7 1002.9,979.7 1003.6,976.2 1004.3,980.7 1005,977.7 1005.7,976.7 1006.5,978.9 1007.2,976.3 1008,980.5 1008.7,976 1009.4,980.2 1010.2,975.9 1010.9,980.3 1011.6,976.7 1012.4,980.3 1013.1,978.5 1013.8,980.7 1014.6,978.7 1015.3,981.8 1016.1,978 1016.8,980.2 1017.5,981.2 1018.2,976.9 1018.9,981 1019.6,978 1020.3,980.1 1021,976.3 1021.8,981.1 1022.5,976.9 1023.2,978.8 1023.9,975.1 1024.6,978.7 1025.3,974.2 1026,976.8 1026.7,978.8 1027.4,974.9 1028.1,978.8 1028.8,974.9 1029.5,979.3 1030.2,976.1 1030.9,980.5 1031.6,976.8 1032.3,980.4 1033,977.2 1033.7,980.5 1034.4,976.8 1035.1,981.2 1035.8,977.8 1036.5,980.9 1037.2,977.3 1037.9,981.9 1038.6,976.5 1039.3,981.6 1040,978.3 1040.7,981.1 1041.4,978.5 1042.1,981.8 1042.8,978.8 1043.5,981.6 1044.2,978 1044.9,982.8 1045.6,979.2 1046.3,983.7 1047,981 1047.7,980.1 1048.4,983.9 1049.1,981.1 1049.8,985.3 1050.5,980.4 1051.2,984.9 1052,981.5 1052.7,986.9 1053.4,983.3 1054.1,986.7 1054.8,983.7 1055.5,986 1056.2,988.7 1056.9,984.8 1057.6,988.3 1058.3,983.9 1059.1,987.8 1059.8,984 1060.5,988.7 1061.2,984.7 1061.9,988.7 1062.6,984.4 1063.3,988.5 1064,983.4 1064.8,987.2 1065.5,983.4 1066.2,988.9 1066.9,984.5 1067.6,986.9 1068.3,984.9 1069,988.8 1069.7,985.1 1070.5,988.7 1071.2,984.8 1071.9,988.4 1072.6,984.9 1073.3,987.2 1074,983.7 1074.7,987.1 1075.4,984.4 1076.2,988.7 1076.9,983.7 1077.6,988.7 1078.3,983.1 1079,986 1079.7,986.7 1080.4,984.2 1081.1,987.9 1081.8,982.9 1082.5,985.9 1083.2,982.9 1084,985.9 1084.7,982.6 1085.4,985.2 1086.1,983 1086.8,986.6 1087.5,983.5 1088.2,981.8 1088.9,985.7 1089.7,981.8 1090.4,984.5 1091.1,981.3 1091.8,984 1092.5,980.8 1093.3,984.1 1094,980.5 1094.7,983.8 1095.4,979.3 1096.2,982.1 1096.9,979.2 1097.6,982.5 1098.3,977.7 1099,981.8 1099.8,978.7 1100.5,982.6 1101.2,976.9 1101.9,981.7 1102.7,977.7 1103.4,980.2 1104.1,977.3 1104.8,979.5 1105.5,977.4 1106.3,980 1107,976.2 1107.7,977.7 1108.4,979.8 1109.1,976.3 1109.9,978.9 1110.6,975.8 1111.3,980.3 1112,976.3 1112.7,980.3 1113.4,976.1 1114.2,981.4 1114.9,975.9 1115.6,981 1116.3,977.1 1117,980.4 1117.8,977.2 1118.5,981.9 1119.2,977.5 1119.9,980.9 1120.6,977.6 1121.3,980.6 1122.1,976.6 1122.8,980.5 1123.5,977.6 1124.2,982.5 1124.9,978.5 1125.6,982 1126.4,978.4 1127.1,981.5 1127.8,980.2 1128.5,979.2 1129.3,981.9 1130,978.6 1130.8,983.9 1131.5,979 1132.2,983 1133,980.1 1133.7,984.2 1134.4,980.8 1135.2,985.3 1135.9,982.1 1136.6,986.8 1137.4,983.4 1138.1,987 1138.9,982.3 1139.6,985.2 1140.3,987.3 1141,983.5 1141.7,988.6 1142.4,984.5 1143.2,988.2 1143.9,983.8 1144.6,988 1145.3,984.2 1146,988.3 1146.7,984.9 1147.4,989.1 1148.2,984.9 1148.9,988.8 1149.6,985.3 1150.3,989.6 1151,987.8 1151.7,986.5 1152.4,989.9 1153.1,986.4 1153.8,990.6 1154.5,986.1 1155.2,990.2 1156,986 1156.7,989.8 1157.4,986.6 1158.1,989.1 1158.8,985.2 1159.5,989.9 1160.2,986.1 1160.9,990 1161.6,985.5 1162.3,989.4 1163,986.9 1163.8,990.6 1164.5,986.3 1165.2,990.3 1165.9,985.6 1166.6,990.9 1167.3,985.6 1168,989.2 1168.7,986.6 1169.4,990.8 1170.1,985.7 1170.8,989.4 1171.5,987.1 1172.2,989.7 1173,987.2 1173.7,989.9 1174.4,985.8 1175.1,990.3 1175.8,986.6 1176.5,989.4 1177.2,986.7 1177.9,991.3 1178.6,986.2 1179.3,990.2 1180,986.6 1180.8,991 1181.5,986.1 1182.2,989.7 1182.9,986.3 1183.6,990.2 1184.3,986.7 1185,988.6 1185.7,989.9 1186.4,986.9 1187.1,990.1 1187.8,986.9 1188.5,989.4 1189.2,987.2 1189.9,990.5 1190.6,987.5 1191.3,989.7 1192,986.1 1192.7,989.8 1193.4,986.9 1194.1,989.7 1194.8,985.8 1195.5,989.4 1196.2,986.2 1196.9,990.9 1197.6,987 1198.3,990 1199,985.8 1199.7,990.4 1200.4,986.6 1201.1,989.2 1201.8,986.4 1202.6,989.8 1203.3,985.9 1204,989.6 1204.7,986.4 1205.4,990.3 1206.1,985.6 1206.8,989.7 1207.5,986.4 1208.2,990.1 1208.9,985.3 1209.6,989.3 1210.3,985.2 1211,990.3 1211.7,986.3 1212.4,990.2 1213.1,986.4 1213.8,988.9 1214.5,985.5 1215.2,989.5 1215.9,985.9 1216.6,989.7 1217.3,985.1 1218,990.2 1218.7,987.8 1219.4,986.6 1220.2,989.2 1220.9,985 1221.7,988.3 1222.4,983.6 1223.1,987.5 1223.9,983.7 1224.6,987.9 1225.3,983.1 1226.1,986.4 1226.8,982.3 1227.6,986.4 1228.3,981.3 1229,985.6 1229.8,981.2 1230.5,983.5 1231.3,980 1232,981.9 1232.7,983.6 1233.4,978.9 1234.1,983.5 1234.9,979.7 1235.6,981.9 1236.3,979.3 1237,982.6 1237.7,978.7 1238.4,980.5 1239.2,976.8 1239.9,981 1240.6,977.7 1241.3,980.7 1242,975.8 1242.7,979.7 1243.5,976.6 1244.2,979.6 1244.9,975.4 1245.6,976.8 1246.3,979.2 1247.1,974.5 1247.8,980.3 1248.5,975.4 1249.3,979.6 1250,977.2 1250.8,981 1251.5,978.5 1252.2,982.5 1253,978.6 1253.7,981.7 1254.5,979.1 1255.2,982.3 1255.9,978.6 1256.7,983.6 1257.4,981.9 1258.1,980.2 1258.8,983.9 1259.5,981.4 1260.2,984 1261,980.1 1261.7,985.3 1262.4,980.4 1263.1,984.6 1263.8,982 1264.5,984.5 1265.2,981.7 1265.9,985.4 1266.7,982.1 1267.4,986 1268.1,982.2 1268.8,986 1269.5,982.1 1270.2,986 1270.9,982.2 1271.6,987.1 1272.3,984.2 1273.1,986.9 1273.8,983.6 1274.5,987.4 1275.2,983.8 1275.9,986 1276.6,987.4 1277.3,984.2 1278,988 1278.7,983.8 1279.4,987.4 1280.1,982.5 1280.8,986.9 1281.5,982.8 1282.2,987.2 1283,982.5 1283.7,986.7 1284.4,982.9 1285.1,985.5 1285.8,981.4 1286.5,984.4 1287.2,980.6 1287.9,984.1 1288.6,980.8 1289.3,982.7 1290,983.8 1290.7,979.7 1291.4,984.3 1292.2,979.6 1292.9,983.8 1293.6,979.6 1294.3,983.9 1295,980 1295.7,982.6 1296.5,978.6 1297.2,982.2 1297.9,978.1 1298.6,982 1299.3,979.5 1300,981.5 1300.7,977.8 1301.5,982.9 1302.2,978.3 1302.9,982 1303.6,978.3 1304.3,982.2 1305,977.1 1305.7,980.4 1306.5,978.1 1307.2,981.2 1307.9,977.8 1308.6,981.2 1309.3,977 1310,979.6 1310.8,976.1 1311.5,979.5 1312.2,975.8 1312.9,977.7 1313.6,979 1314.3,975.2 1315,979.5 1315.7,975.5 1316.5,979.4 1317.2,975.8 1317.9,981.3 1318.6,976.8 1319.3,979.5 1320,977.1 1320.7,981 1321.4,977.6 1322.2,981 1322.9,978 1323.6,981 1324.3,977 1325,981.1 1325.7,977.3 1326.4,980.7 1327.1,977.1 1327.9,980.9 1328.6,977.2 1329.3,982.9 1330,977.3 1330.7,982.1 1331.4,978.8 1332.1,982 1332.8,978.1 1333.6,982.5 1334.3,977.9 1335,981.9 1335.7,979 1336.4,981 1337.1,983.8 1337.9,979.4 1338.6,983.6 1339.3,980.8 1340.1,983.2 1340.8,980.9 1341.5,985.2 1342.2,980.2 1343,984.3 1343.7,980.4 1344.4,984.3 1345.2,981.5 1345.9,986.7 1346.6,982.5 1347.4,987 1348.1,982.3 1348.8,985.7 1349.5,983.4 1350.3,986.9 1351,984 1351.7,987.9 1352.5,984.5 1353.2,986 1353.9,988.5 1354.7,984.7 1355.4,987.2 1356.1,984.3 1356.9,987.5 1357.6,984.5 1358.3,989 1359,984.5 1359.8,988.5 1360.5,985.8 1361.2,988.8 1362,985.9 1362.7,989.2 1363.4,986 1364.2,989.2 1364.9,985.7 1365.6,989 1366.3,985.2 1367.1,988.7 1367.8,986.4 1368.5,990.4 1369.3,986.2 1370,987.8 1370.7,990.4 1371.4,985.1 1372.1,989.6 1372.8,986.6 1373.5,988.8 1374.2,985.1 1374.9,988.8 1375.6,985.8 1376.3,989.6 1377,986.5 1377.7,989.5 1378.4,986.4 1379.1,989.6 1379.8,985.7 1380.5,989.2 1381.3,986.3 1382,989.2 1382.7,986.3 1383.4,988.7 1384.1,986.2 1384.8,990.1 1385.5,985.6 1386.2,990.1 1386.9,986.6 1387.6,990.2 1388.3,985.6 1389,989.9 1389.7,985.4 1390.4,989.6 1391.1,986 1391.8,989.7 1392.5,986.2 1393.2,988.7 1393.9,986.4 1394.6,989 1395.3,985.4 1396,988.7 1396.7,984.6 1397.4,988.3 1398.1,985.2 1398.8,988.5 1399.5,985.1 1400.2,989.6 1400.9,984.8 1401.6,988.1 1402.3,985.8 1403.1,989.2 1403.8,984.2 1404.5,988 1405.2,984.9 1405.9,989.3 1406.6,984.5 1407.3,988.6 1408,984.5 1408.7,988.8 1409.4,984.2 1410.1,987.9 1410.8,984.2 1411.5,988.6 1412.2,985.2 1412.9,988 1413.6,986.9 1414.3,985.3 1415,988.8 1415.7,984 1416.4,987.2 1417.1,984.3 1417.8,986.8 1418.5,984.2 1419.2,986.5 1419.9,983.5 1420.6,987.7 1421.3,981.7 1422,986.9 1422.8,982.3 1423.5,985.9 1424.2,981.3 1424.9,986.3 1425.6,981 1426.3,985.3 1427,981.7 1427.7,984.9 1428.4,979.9 1429.1,984.8 1429.8,981.1 1430.5,981.9 1431.2,984 1432,980 1432.7,982.6 1433.4,978.3 1434.2,983.2 1434.9,978.4 1435.6,981.8 1436.3,977.9 1437.1,983 1437.8,977.4 1438.5,982.3 1439.3,977.1 1440,982 1440.7,977.3 1441.5,980.9 1442.2,976.4 1442.9,981.3 1443.6,976 1444.4,979.9 1445.1,975.4 1445.8,980 1446.6,975.1 1447.3,977.7 1448,978.9 1448.8,975.1 1449.5,980.5 1450.2,976.7 1451,980.8 1451.7,977 1452.4,979.7 1453.2,976.7 1453.9,980 1454.6,976.8 1455.3,981.5 1456.1,976.6 1456.8,981.3 1457.5,977.4 1458.3,981.7 1459,979.3 1459.7,976.7 1460.5,981.3 1461.2,976.2 1461.9,981.4 1462.6,977 1463.4,979.7 1464.1,976.3 1464.8,981 1465.6,976.7 1466.3,980.2 1467,975.5 1467.7,980.4 1468.5,976.9 1469.2,977.7 1469.9,979.7 1470.6,977 1471.4,979.1 1472.1,975.7 1472.8,980 1473.5,976.3 1474.2,980.3 1474.9,977.1 1475.7,980.1 1476.4,977.3 1477.1,981.6 1477.8,977 1478.5,980.7 1479.2,978.3 1480,980.9 1480.7,977.3 1481.4,981.5 1482.1,977.6 1482.8,982.4 1483.6,978.9 1484.3,982.4 1485,979.3 1485.7,983 1486.4,979.3 1487.1,982.1 1487.9,978 1488.6,982.5 1489.3,981 1490,980 1490.8,984.3 1491.5,979.8 1492.2,984.9 1493,980.9 1493.7,984.8 1494.4,980.4 1495.2,985.4 1495.9,980.9 1496.6,985.4 1497.3,981.9 1498.1,985.9 1498.8,983.1 1499.5,986.2 1500.3,984.5 1501,986 1501.7,988.8 1502.4,984.2 1503.1,988.6 1503.8,984.7 1504.5,987.7 1505.2,985 1505.9,988.1 1506.6,983.5 1507.3,988.1 1508.1,984.5 1508.8,988.9 1509.5,983.5 1510.2,988.4 1510.9,985.2 1511.6,988.4 1512.3,984.5 1513,989.1 1513.7,984.7 1514.4,988.5 1515.1,984.2 1515.8,988 1516.5,984.4 1517.2,988.6 1517.9,983.7 1518.6,988.3 1519.3,984.8 1520,989.3 1520.8,985.5 1521.5,989 1522.2,984.2 1522.9,988.5 1523.6,984.7 1524.3,988.9 1525,983.9 1525.7,988.9 1526.4,984.2 1527.1,987.5 1527.8,985.1 1528.5,987.8 1529.2,983.9 1529.9,989.4 1530.6,985.5 1531.3,988.8 1532,984.7 1532.7,987.7 1533.5,985.1 1534.2,989.2 1534.9,984.6 1535.6,988.2 1536.3,984.4 1537,988.3 1537.7,984.9 1538.4,988.6 1539.1,984 1539.8,986.9 1540.5,988.8 1541.3,983.9 1542,988.4 1542.7,984.3 1543.4,988.5 1544.2,983.1 1544.9,987.5 1545.6,983.5 1546.4,985.9 1547.1,982.4 1547.8,986.8 1548.5,981.5 1549.3,985.3 1550,983.5 1550.8,981.7 1551.6,984.2 1552.4,979 1553.2,981 1554.8,655 1556.4,981 1557.1,982.9 1557.8,980 1558.6,984.3 1559.3,982.3 1560,984.5 1560.7,985.5 1561.4,983.1 1562.1,986.3 1562.8,981.8 1563.5,987.5 1564.2,983.5 1564.9,986.3 1565.6,982 1566.3,986.1 1567.1,983.3 1567.8,986.7 1568.5,983.9 1569.2,986.4 1569.9,983.3 1570.6,986.7 1571.3,982.3 1572,986.5 1572.7,983.9 1573.4,985.2 1574.1,987.7 1574.8,983.1 1575.5,987.3 1576.3,982.4 1577,986.8 1577.7,982.7 1578.4,984 1579.6,678.5 1580.8,986 1581.9,988.6 1582.6,989.5 1583.3,985.6 1584.1,989.5 1584.8,985.4 1585.5,989.3 1586.2,984.4 1587,987.9 1587.7,984.6 1588.4,988.6 1589.1,983.7 1589.8,986.8 1590.6,982.9 1591.3,986.1 1592,984.4 1592.7,981.5 1593.5,984.5 1594.2,980.5 1595,984.6 1595.7,980.6 1596.4,984.5 1597.2,979.9 1597.9,982.2 1598.7,979.4 1599.4,981.9 1600.2,977.1 1600.9,981.3 1601.6,976.9 1602.4,980.7 1603.1,976.6 1603.9,978.7 1604.6,976.8 1605.3,974.9 1606,980.2 1606.7,975.5 1607.5,980.3 1608.2,975.8 1608.9,980.2 1609.6,976.1 1610.3,981.5 1611,977.9 1611.8,981.4 1612.5,977.5 1613.2,981.9 1613.9,979.4 1614.6,983.6 1615.3,979.3 1616,983.4 1616.8,979.6 1617.5,984.8 1618.2,981.3 1618.9,982.7 1619.7,984.2 1620.4,981.6 1621.2,984.2 1622,980.5 1622.7,984.9 1623.5,980 1624.2,984.2 1625,980.4 1625.8,984.1 1626.5,980.5 1627.3,981.9 1628,984.8 1628.7,980 1629.4,985.3 1630.1,981.8 1630.8,985.5 1631.5,981.1 1632.2,985.7 1632.9,981.4 1633.6,987.1 1634.3,982.3 1635,987.5 1635.7,985.2 1636.4,982.7 1637.2,987.2 1637.9,983.1 1638.6,986.2 1639.4,981.3 1640.1,985.4 1640.8,981.5 1641.5,983.6 1642.3,980.2 1643,984.5 1643.7,980.2 1644.5,982.6 1645.2,979.6 1645.9,981.7 1646.7,978.1 1647.4,982.8 1648.1,977.2 1648.8,980.9 1649.6,976.7 1650.3,979.7 1651,975.8 1651.8,979.6 1652.5,977.7 1653.2,976.9 1653.9,980 1654.6,976.8 1655.3,979.5 1656,977.1 1656.7,980 1657.4,976.3 1658.2,980.9 1658.9,977.5 1659.6,981.1 1660.3,977.5 1661,980 1661.7,976.6 1662.4,980.4 1663.1,977.4 1663.8,981 1664.5,977.8 1665.2,981.6 1665.9,977.9 1666.6,981.9 1667.3,976.9 1668,981.4 1668.7,978.6 1669.5,982.1 1670.2,978.8 1670.9,981.7 1671.6,978.1 1672.3,981 1673,977.9 1673.7,982.5 1674.4,980.2 1675.1,978.4 1675.8,982.5 1676.5,979.2 1677.2,983.5 1677.9,980.4 1678.6,984.7 1679.3,979.4 1680,985.1 1680.7,980.1 1681.5,984.8 1682.2,980.7 1682.9,984.9 1683.6,982.3 1684.3,985.6 1685,983 1685.7,987.3 1686.4,983.1 1687.1,987.5 1687.8,986 1688.5,984.5 1689.3,987.5 1690,984.6 1690.8,987.9 1691.5,985.3 1692.2,989 1693,984.9 1693.7,988.7 1694.4,985.7 1695.2,989.4 1695.9,986 1696.6,988.8 1697.4,985.5 1698.1,989.9 1698.9,984.8 1699.6,987.8 1700.3,990.2 1701,985 1701.7,990.5 1702.4,985.5 1703.1,990.1 1703.8,986.8 1704.5,989.1 1705.2,986.9 1705.9,990.4 1706.6,985.5 1707.3,989.9 1708,986.4 1708.7,989.4 1709.4,986.6 1710.1,990 1710.8,984.9 1711.5,989.3 1712.2,986.8 1712.9,989 1713.6,986.2 1714.3,990.5 1715,985.3 1715.7,989.6 1716.4,986.7 1717.1,988.9 1717.8,986.6 1718.5,990.2 1719.2,986 1719.9,990.7 1720.6,985.1 1721.3,990.3 1722,986 1722.7,990.3 1723.4,986.7 1724.1,988.9 1724.8,985.8 1725.5,989.7 1726.2,986.5 1726.9,989.2 1727.6,986.9 1728.3,990.5 1729,985.5 1729.7,990.6 1730.4,984.9 1731.1,989.6 1731.8,985.4 1732.5,989.4 1733.2,985.3 1733.9,990.4 1734.6,986.7 1735.3,988.7 1736,986.5 1736.7,989.9 1737.4,986.2 1738.1,988.7 1738.8,985.2 1739.5,990.3 1740.2,986 1740.9,988.8 1741.6,985.1 1742.3,989.8 1743,986.8 1743.7,989.3 1744.4,985.7 1745.1,990.5 1745.8,985.9 1746.5,990 1747.2,986.5 1747.9,989.2 1748.6,985.1 1749.3,989.4 1750,987.8 1750.7,986.5 1751.4,989.5 1752.1,986.1 1752.8,988.4 1753.5,985.1 1754.2,988.8 1754.9,984.4 1755.6,988.7 1756.3,984.4 1757,987 1757.7,983.5 1758.5,986.6 1759.2,983.6 1759.9,987 1760.6,982.9 1761.3,987.3 1762,983.4 1762.7,986.8 1763.4,982.1 1764.1,986 1764.8,982.9 1765.5,986.6 1766.2,981.6 1766.9,983.5 1767.6,984.3 1768.3,981.7 1769.1,985.8 1769.8,981.3 1770.5,984.1 1771.2,979.8 1771.9,984.6 1772.6,979.7 1773.4,984 1774.1,980.5 1774.8,982.3 1775.5,978.2 1776.2,983.3 1777,979.7 1777.7,981.4 1778.4,978.8 1779.1,982.7 1779.8,978.5 1780.5,981.8 1781.3,976.6 1782,981.3 1782.7,976.2 1783.4,980.1 1784.1,977.3 1784.8,979.2 1785.6,975.7 1786.3,979 1787,977.7 1787.7,975 1788.5,980.3 1789.2,976.8 1789.9,980.7 1790.7,977.2 1791.4,980.4 1792.1,977.5 1792.8,981.2 1793.6,976.2 1794.3,981.7 1795,978.3 1795.8,981.9 1796.5,977.4 1797.2,982.1 1798,977.8 1798.7,979.8 1799.4,981.7 1800.1,977.3 1800.9,981.7 1801.6,977.9 1802.3,979.7 1803,976.5 1803.8,979.8 1804.5,976.4 1805.2,978.8 1805.9,975.3 1806.6,978.4 1807.4,974.7 1808.1,979.5 1808.8,976.8 1809.5,975.1 1810.2,978.1 1810.9,975 1811.6,978.6 1812.4,975.6 1813.1,978.6 1813.8,974.8 1814.5,979.7 1815.2,976.3 1815.9,979 1816.6,975.7 1817.3,980.8 1818,975.7 1818.8,979.5 1819.5,976.9 1820.2,980.1 1820.9,976.3 1821.6,980 1822.3,976.9 1823,982 1823.7,976.8 1824.5,980.2 1825.2,978.4 1825.9,980.7 1826.6,977.4 1827.3,979.8 1828,982.2 1828.8,978.5 1829.5,982.6 1830.2,979.5 1831,983.6 1831.7,979.6 1832.4,984.9 1833.2,980.1 1833.9,985.3 1834.6,980.5 1835.3,986.1 1836.1,981.5 1836.8,985.1 1837.5,982.3 1838.3,987.5 1839,985.2 1839.7,983.6 1840.4,988.1 1841.1,984.4 1841.8,988.5 1842.6,984.1 1843.3,988.3 1844,984.8 1844.7,987.8 1845.4,984.9 1846.1,988.1 1846.8,985.6 1847.5,988.6 1848.2,984.1 1848.9,989.3 1849.7,984.5 1850.4,989.8 1851.1,985 1851.8,990.6 1852.5,987.8 1853.2,985.4 1853.9,989.3 1854.6,986.5 1855.3,989.6 1856,987 1856.7,989.3 1857.4,985.3 1858.1,990.8 1858.8,986.5 1859.5,990.5 1860.2,985.7 1860.9,990.8 1861.6,985.7 1862.3,990.2 1863,987.2 1863.7,990.8 1864.4,986.8 1865.1,990.5 1865.8,986.8 1866.5,990.4 1867.2,985.6 1867.9,989.7 1868.6,986.6 1869.3,990.7 1870,986.6 1870.7,991.4 1871.4,986.9 1872.1,991.4 1872.8,986.4 1873.5,991.6 1874.2,987.7 1874.9,990.1 1875.6,987.4 1876.3,991.5 1877,988 1877.7,988.9 1878.4,990.3 1879.1,986.5 1879.8,991.7 1880.5,987.6 1881.2,990.5 1881.9,986.5 1882.6,991 1883.3,986.3 1884,991.1 1884.7,987.3 1885.4,990 1886.1,987.7 1886.8,990.9 1887.5,987.3 1888.2,990 1888.9,985.7 1889.6,990.7 1890.3,986.4 1891,990.7 1891.7,986.4 1892.4,990.7 1893.1,986.9 1893.8,989.4 1894.6,987.3 1895.3,989.2 1896,986.7 1896.7,989.4 1897.4,987.2 1898.1,990.1 1898.8,985.4 1899.5,990.5 1900.2,986.7 1900.9,990.6 1901.6,986.9 1902.3,989.2 1903,986.6 1903.7,989.8 1904.4,985.8 1905.1,989.8 1905.8,985.6 1906.5,989 1907.2,985.2 1907.9,989.5 1908.6,985.3 1909.3,988.8 1910,985.3 1910.7,989.2 1911.4,987.8 1912.1,984.9 1912.8,989.7 1913.5,984.6 1914.2,988 1914.9,985.4 1915.6,987.2 1916.3,982.9 1917,986.5 1917.7,982.8 1918.5,986.8 1919.2,982.2 1919.9,985.3 1920.6,982.6 1921.3,984.5 1922,980.3 1922.7,984.5 1923.4,980.3 1924.1,984.2 1924.8,981.9 1925.5,980.4 1926.2,982.6 1926.9,980.5 1927.6,983.8 1928.3,979.9 1929,983.7 1929.7,979.1 1930.4,982.8 1931.1,979.2 1931.8,982.6 1932.5,978.6 1933.2,981.4 1934,977.7 1934.7,980.5 1935.4,977.9 1936.1,981.6 1936.8,977.5 1937.5,980.4 1938.2,976.2 1938.9,979.7 1939.6,977 1940.3,979.4 1941,976.2 1941.7,977.7 1942.4,979.4 1943.2,975.8 1943.9,979.9 1944.6,975.6 1945.4,979.3 1946.1,976.3 1946.8,981.2 1947.6,977.4 1948.3,979.8 1949,977.3 1949.7,980.2 1950.5,977.5 1951.2,981.7 1951.9,978.5 1952.7,980.8 1953.4,979.8 1954.1,977.8 1954.8,980.7 1955.6,978 1956.3,981 1957,977.9 1957.7,979.9 1958.5,977.1 1959.2,980.4 1959.9,975.7 1960.6,980.3 1961.3,977.1 1962.1,979.3 1962.8,975.5 1963.5,977.7 1964.2,979.8 1964.9,975.2 1965.6,980.7 1966.3,975.3 1967.1,979.1 1967.8,975.3 1968.5,980.1 1969.2,976.8 1969.9,979.5 1970.6,975.7 1971.3,979.7 1972,977.4 1972.8,979.9 1973.5,975.8 1974.2,980.4 1974.9,976.3 1975.6,979.8 1976.3,977 1977,980.4 1977.7,977.6 1978.4,981.2 1979.2,977.5 1979.9,980.2 1980.6,976.3 1981.3,981.1 1982,979.3 1982.7,978.5 1983.4,981 1984.2,978.4 1984.9,982.9 1985.6,980.5 1986.3,983.7 1987,979.9 1987.8,984.6 1988.5,981.7 1989.2,985.4 1989.9,981.8 1990.7,986.5 1991.4,983.6 1992.1,985.2 1992.8,987.9 1993.6,982.7 1994.3,988.1 1995,983.2 1995.8,987.6 1996.5,983.5 1997.3,987.6 1998,985.2 1998.7,988.7 1999.5,984.1 2000.2,988 2001,985.8 2001.7,988.3 2002.4,985.7 2003.2,988.8 2003.9,987.8 2004.6,986.5 2005.3,990.2 2006,985.7 2006.7,990.6 2007.4,986.1 2008.1,990 2008.8,986.9 2009.5,990.6 2010.2,986.5 2010.9,989.6 2011.6,985.9 2012.3,990.6 2013,985.9 2013.7,990.7 2014.4,985.7 2015.1,989.1 2015.8,985.2 2016.5,989.1 2017.2,984.9 2017.9,989.6 2018.6,986.5 2019.3,990.6 2020,986.3 2020.7,989.5 2021.4,986.2 2022.1,990 2022.8,986.9 2023.5,989.4 2024.2,986.6 2024.9,990.4 2025.6,986.9 2026.3,989.9 2027,986.4 2027.7,989.6 2028.4,985.8 2029.1,990.1 2029.8,986.7 2030.5,989.2 2031.2,986.7 2031.9,990.6 2032.6,986.6 2033.4,988.9 2034.1,985.9 2034.8,989.9 2035.5,985.1 2036.2,988.8 2036.9,986.5 2037.6,989 2038.3,985.7 2039,989.6 2039.7,986.1 2040.4,990.5 2041.1,985.6 2041.8,990.4 2042.5,985 2043.2,989.2 2043.9,985 2044.6,989.5 2045.3,986.8 2046,990.5 2046.7,986.7 2047.4,988.7 2048.1,986.3 2048.8,989.3 2049.5,985 2050.2,990.4 2050.9,986.1 2051.6,989.7 2052.3,985.2 2053,990.3 2053.7,985.6 2054.4,989.7 2055.1,986.7 2055.8,989.2 2056.5,985.6 2057.2,989.9 2057.9,985.3 2058.6,990.5 2059.3,985 2060,989.1 2060.7,986.8 2061.4,990.5 2062.1,985.8 2062.8,987.8 2063.5,988.8 2064.2,985 2064.9,988.4 2065.7,985.4 2066.4,988 2067.1,984.2 2067.8,988.1 2068.5,984.6 2069.2,987.7 2069.9,982.9 2070.7,986.6 2071.4,982.3 2072.1,986.7 2072.8,983.1 2073.5,985.5 2074.2,981.2 2074.9,985.5 2075.6,980.7 2076.4,983.9 2077.1,979.5 2077.8,984.5 2078.5,981.8 2079.2,980.3 2080,983.2 2080.7,978.5 2081.4,982.4 2082.1,979.3 2082.9,983.7 2083.6,978 2084.3,981.9 2085,978 2085.8,981.8 2086.5,977.8 2087.2,982.3 2087.9,978.6 2088.7,980.9 2089.4,978.1 2090.1,980.6 2090.8,978.1 2091.6,980.1 2092.3,977 2093,980.3 2093.7,977.4 2094.5,980.3 2095.2,978.1 2095.9,975.5 2096.7,980.4 2097.4,977 2098.2,981 2098.9,977.1 2099.6,980.2 2100.4,977.3 2101.1,980.2 2101.9,977.2 2102.6,980.8 2103.3,978.2 2104.1,982.8 2104.8,977.7 2105.6,982.8 2106.3,980.4 2107,978.1 2107.7,982.3 2108.4,977.7 2109.1,982.7 2109.8,978.5 2110.5,982 2111.2,978 2111.9,980.7 2112.7,976.6 2113.4,981.1 2114.1,976.3 2114.8,981.4 2115.5,976.6 2116.2,979.8 2116.9,977.5 2117.6,980.2 2118.3,978.1 2119,975.9 2119.8,979.8 2120.5,977.4 2121.2,979.4 2121.9,977.4 2122.7,981.1 2123.4,978 2124.1,980.4 2124.8,977.7 2125.6,981.6 2126.3,976.5 2127,980.4 2127.7,978.5 2128.4,982.5 2129.2,977 2129.9,981.1 2130.6,978.5 2131.3,982.1 2132.1,978.8 2132.8,982.1 2133.5,978.7 2134.2,982 2135,979.7 2135.7,981.9 2136.4,979.8 2137.2,982.1 2137.9,979 2138.6,981.3 2139.3,984 2140,980.7 2140.7,985 2141.5,980.5 2142.2,984.8 2142.9,981.8 2143.6,985.3 2144.3,981.7 2145,986.8 2145.8,984.2 2146.5,986.8 2147.2,983.7 2147.9,986.4 2148.7,988.3 2149.4,984.5 2150.2,988.4 2151,984.8 2151.7,990.1 2152.5,987.8 2153.2,986.8 2154,990 2154.7,986.7 2155.4,990.4 2156.1,985.6 2156.9,990.6 2157.6,986.9 2158.3,989.3 2159,986.1 2159.8,990.4 2160.5,987.3 2161.2,989.8 2161.9,986.5 2162.7,989.7 2163.4,986.6 2164.1,990.1 2164.8,987.4 2165.6,990.6 2166.3,987 2167,991.4 2167.7,988.1 2168.5,991.5 2169.2,989.2 2169.9,987.8 2170.6,990.6 2171.3,986.9 2172,991.3 2172.7,986.9 2173.4,991.7 2174.1,987.7 2174.8,990.4 2175.5,986.7 2176.2,990.3 2177,987.6 2177.7,990.1 2178.4,986.3 2179.1,991.3 2179.8,986.4 2180.5,991.5 2181.2,986.2 2181.9,990.1 2182.6,987.1 2183.3,990.9 2184,987.5 2184.7,990.6 2185.4,987.4 2186.1,989.4 2186.8,986.5 2187.5,989.5 2188.2,985.5 2188.9,990.9 2189.6,986.4 2190.3,989.5 2191,987.1 2191.8,990 2192.5,986.2 2193.2,989.7 2193.9,985.7 2194.6,989.9 2195.3,985.5 2196,989 2196.7,986.9 2197.4,989.5 2198.1,986 2198.8,987.8 2199.5,988.9 2200.2,985.1 2200.9,988.4 2201.6,985.3 2202.3,988.4 2203,984 2203.8,988.5 2204.5,984.2 2205.2,987.4 2205.9,982.6 2206.6,987.9 2207.3,982.7 2208,984.6 2208.7,985.3 2209.4,981.9 2210.1,985.5 2210.9,981.4 2211.6,983.4 2212.3,979.2 2213,984.3 2213.7,980 2214.4,982.5 2215.2,978.2 2215.9,981.3 2216.6,978.4 2217.3,979 2218,981.3 2218.8,976.4 2219.5,980.5 2220.2,977.6 2220.9,980.3 2221.7,977.5 2222.4,981.3 2223.1,977.4 2223.8,979.8 2224.6,975.8 2225.3,979.3 2226,977 2226.7,979 2227.5,976.7 2228.2,979.8 2228.9,975.2 2229.6,978.9 2230.4,976.4 2231.1,979.9 2231.8,975.7 2232.5,978.9 2233.3,976.2 2234,977.2 2234.7,979 2235.4,975.3 2236.1,979.7 2236.8,977.6 2237.6,981.9 2238.3,977.3 2239,983.1 2239.7,979 2240.4,981.3 2241.1,984.1 2241.8,979.3 2242.5,982.8 2243.2,979.6 2243.9,983.8 2244.6,979.1 2245.3,982.6 2246,980.3 2246.8,984.4 2247.5,980.5 2248.2,984.1 2248.9,980.1 2249.6,983.1 2250.3,980.3 2251,983.6 2251.7,978.9 2252.4,981.8 2255,985 2255.3,939.8" fill="none" stroke="#ffa500" stroke-width="4.3" stroke-linejoin="round" stroke-linecap="butt"/>
<rect x="147" y="638" width="2209" height="371.8" fill="none" stroke="#0d0d0d" stroke-width="2.8"/>
<line x1="135" y1="651.3" x2="147" y2="651.3" stroke="#0d0d0d" stroke-width="2.5"/>
<text x="124" y="663.5" font-size="42.5" font-family="'Liberation Serif','Times New Roman',serif" text-anchor="end">0.6</text>
<line x1="135" y1="763.8" x2="147" y2="763.8" stroke="#0d0d0d" stroke-width="2.5"/>
<text x="124" y="777.9" font-size="42.5" font-family="'Liberation Serif','Times New Roman',serif" text-anchor="end">0.4</text>
<line x1="135" y1="878.9" x2="147" y2="878.9" stroke="#0d0d0d" stroke-width="2.5"/>
<text x="124" y="893.2" font-size="42.5" font-family="'Liberation Serif','Times New Roman',serif" text-anchor="end">0.2</text>
<line x1="135" y1="992.4" x2="147" y2="992.4" stroke="#0d0d0d" stroke-width="2.5"/>
<text x="124" y="1006.3" font-size="42.5" font-family="'Liberation Serif','Times New Roman',serif" text-anchor="end">0.0</text>
<line x1="246.6" y1="1009.8" x2="246.6" y2="1020.6" stroke="#0d0d0d" stroke-width="2.5"/>
<text x="240.7" y="1070" font-size="37.5" font-family="'Liberation Sans',Arial,sans-serif" text-anchor="start" textLength="17.7" lengthAdjust="spacingAndGlyphs" class="s">0</text>
<line x1="601" y1="1009.8" x2="601" y2="1020.6" stroke="#0d0d0d" stroke-width="2.5"/>
<text x="541.1" y="1070" font-size="37.5" font-family="'Liberation Sans',Arial,sans-serif" text-anchor="start" textLength="112.4" lengthAdjust="spacingAndGlyphs" class="s">10,000</text>
<line x1="953.5" y1="1009.8" x2="953.5" y2="1020.6" stroke="#0d0d0d" stroke-width="2.5"/>
<text x="892.6" y="1071" font-size="37.5" font-family="'Liberation Sans',Arial,sans-serif" text-anchor="start" textLength="114.6" lengthAdjust="spacingAndGlyphs" class="s">20,000</text>
<line x1="1308.5" y1="1009.8" x2="1308.5" y2="1020.6" stroke="#0d0d0d" stroke-width="2.5"/>
<text x="1247.6" y="1072.5" font-size="37.5" font-family="'Liberation Sans',Arial,sans-serif" text-anchor="start" textLength="114.2" lengthAdjust="spacingAndGlyphs" class="s">30,000</text>
<line x1="1662.4" y1="1009.8" x2="1662.4" y2="1020.6" stroke="#0d0d0d" stroke-width="2.5"/>
<text x="1597.7" y="1073.4" font-size="37.5" font-family="'Liberation Sans',Arial,sans-serif" text-anchor="start" textLength="116" lengthAdjust="spacingAndGlyphs" class="s">40,000</text>
<line x1="2015.2" y1="1009.8" x2="2015.2" y2="1020.6" stroke="#0d0d0d" stroke-width="2.5"/>
<text x="1951.6" y="1069.4" font-size="37.5" font-family="'Liberation Sans',Arial,sans-serif" text-anchor="start" textLength="114" lengthAdjust="spacingAndGlyphs" class="s">50,000</text>
<text x="1182.7" y="1122.4" font-size="46.5" font-family="'Liberation Serif','Times New Roman',serif" text-anchor="start" textLength="207.3" lengthAdjust="spacingAndGlyphs">Time index</text>
<text x="1243.6" y="1191.5" font-size="62.5" font-family="'Liberation Serif','Times New Roman',serif" text-anchor="start" textLength="71" lengthAdjust="spacingAndGlyphs">(b)</text>
<text transform="translate(49.5,961.7) rotate(-90)" font-size="38.5" font-family="'Liberation Serif','Times New Roman',serif" textLength="294.3" lengthAdjust="spacingAndGlyphs">Value of the sensor</text>
<rect x="1654.3" y="660.2" width="677.8" height="80.7" rx="9" ry="9" fill="#ffffff" fill-opacity="0.8" stroke="#c6c6c6" stroke-width="2.3"/>
<line x1="1672.4" y1="695.3" x2="1770.3" y2="695.3" stroke="#ffa500" stroke-width="4.6"/>
<text x="1804.6" y="712" font-size="46" font-family="'Liberation Serif','Times New Roman',serif" text-anchor="start" textLength="139.6" lengthAdjust="spacingAndGlyphs">LIT101</text>
<text x="1968.2" y="712" font-size="44" font-family="'Liberation Sans',Arial,sans-serif" text-anchor="start" textLength="260.4" lengthAdjust="spacingAndGlyphs" class="s">SR-processed</text>
</g>
</svg>
</body></html>
